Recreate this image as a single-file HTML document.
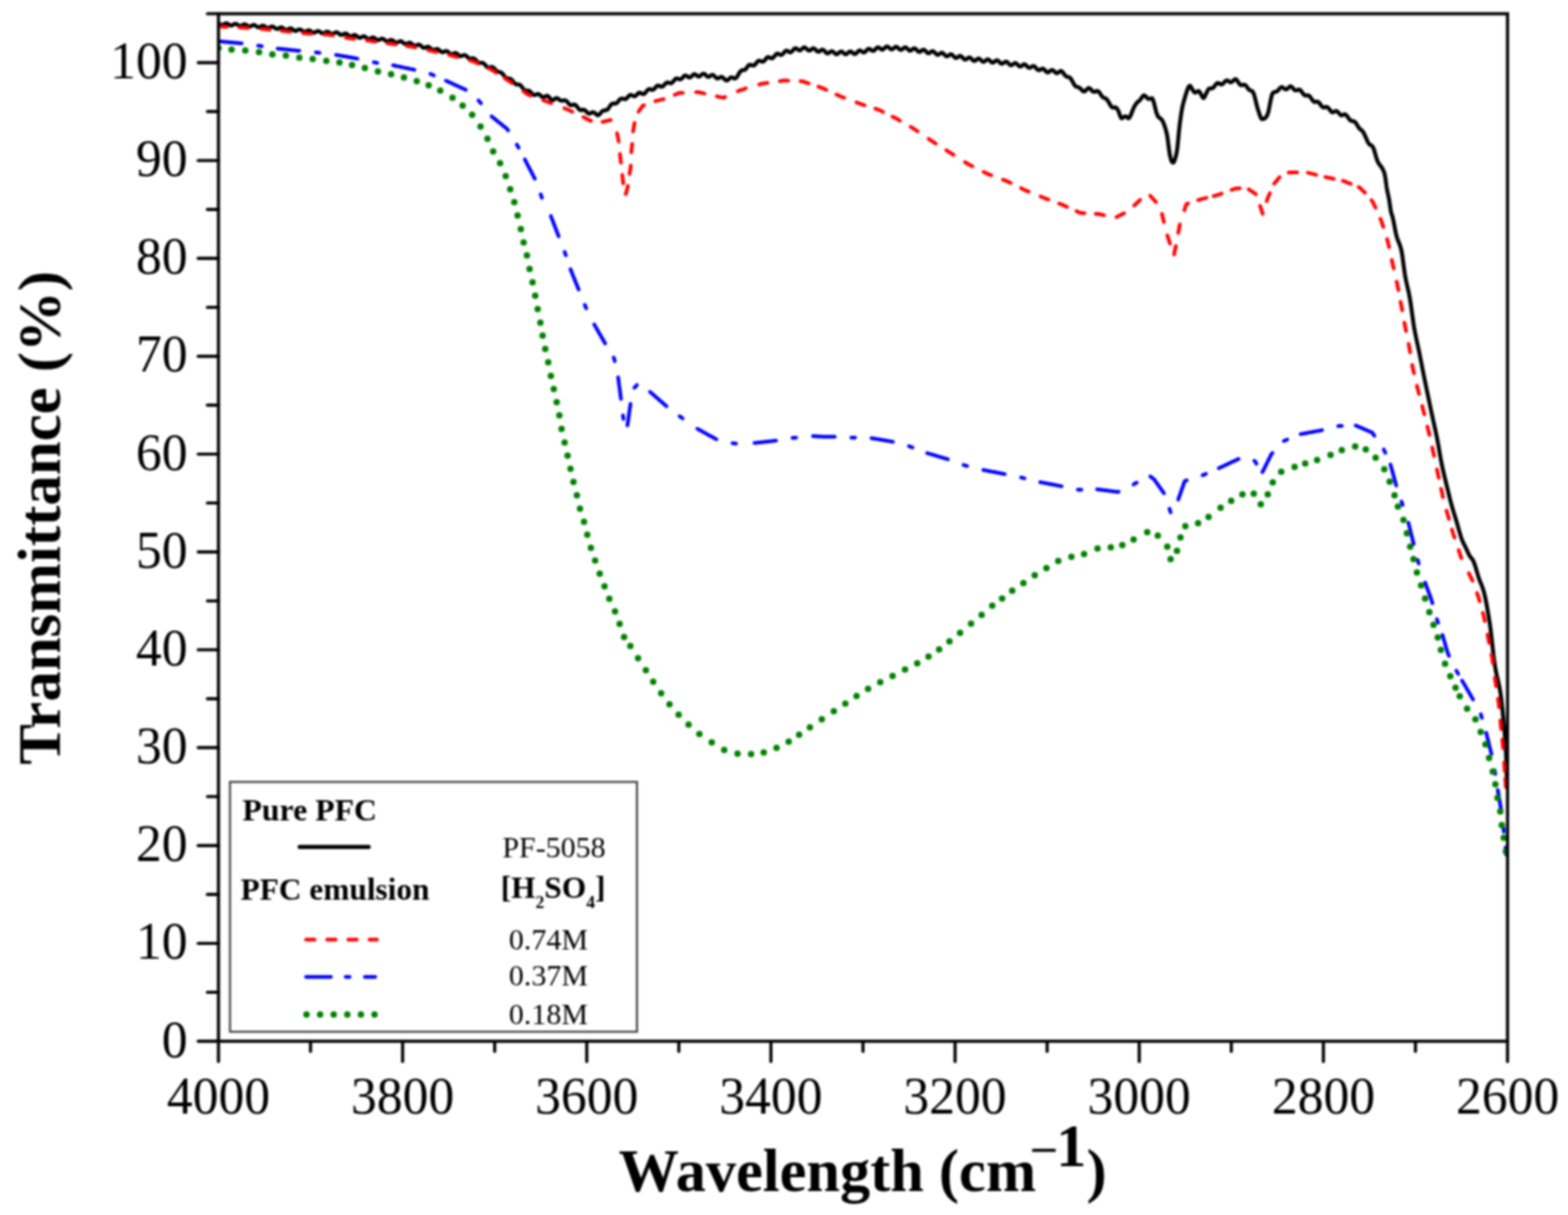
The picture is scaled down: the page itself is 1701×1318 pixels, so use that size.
<!DOCTYPE html>
<html><head><meta charset="utf-8"><style>
html,body{margin:0;padding:0;background:#fff;}
svg{display:block;filter:blur(0.9px);}
text{font-family:"Liberation Serif","Times New Roman",serif;}
.tl{font-size:56px;fill:#000;}
.at{font-size:66px;font-weight:bold;fill:#000;}
.lb{font-size:34.5px;font-weight:bold;fill:#000;}
.lb2{font-size:34px;font-weight:bold;fill:#000;}
.lr{font-size:32.5px;fill:#000;}
.at2{font-size:65.5px;font-weight:bold;fill:#000;}
.mn{font-size:48px;fill:#000;}
.sub{font-size:19px;}
</style></head><body>
<svg width="1701" height="1318" viewBox="0 0 1701 1318">
<defs><clipPath id="pc"><rect x="237" y="15" width="1398.5" height="1114.5"/></clipPath></defs>
<g clip-path="url(#pc)" fill="none" stroke-linecap="round" stroke-linejoin="round">
<path d="M237.0,25.3 L238.0,25.9 L239.0,26.6 L240.0,27.1 L241.0,27.2 L242.0,26.9 L243.0,26.3 L244.0,25.7 L245.0,25.3 L246.0,25.3 L247.0,25.7 L248.0,26.4 L249.0,27.1 L250.0,27.6 L251.0,27.7 L252.0,27.4 L253.0,26.8 L254.0,26.2 L255.0,25.8 L256.0,25.8 L257.0,26.3 L258.0,27.0 L259.0,27.7 L260.0,28.2 L261.0,28.2 L262.0,27.9 L263.0,27.3 L264.0,26.7 L265.0,26.4 L266.0,26.4 L267.0,26.9 L268.0,27.6 L269.0,28.3 L270.0,28.8 L271.0,28.9 L272.0,28.5 L273.0,27.9 L274.0,27.4 L275.0,27.0 L276.0,27.1 L277.0,27.6 L278.0,28.4 L279.0,29.1 L280.0,29.6 L281.0,29.6 L282.0,29.3 L283.0,28.7 L284.0,28.1 L285.0,27.8 L286.0,27.9 L287.0,28.5 L288.0,29.2 L289.0,29.9 L290.0,30.4 L291.0,30.4 L292.0,30.1 L293.0,29.5 L294.0,29.0 L295.0,28.7 L296.0,28.8 L297.0,29.4 L298.0,30.2 L299.0,30.9 L300.0,31.4 L301.0,31.4 L302.0,31.0 L303.0,30.5 L304.0,29.9 L305.0,29.7 L306.0,29.9 L307.0,30.5 L308.0,31.3 L309.0,32.0 L310.0,32.4 L311.0,32.4 L312.0,32.1 L313.0,31.5 L314.0,31.0 L315.0,30.7 L316.0,30.9 L317.0,31.5 L318.0,32.3 L319.0,33.0 L320.0,33.5 L321.0,33.5 L322.0,33.1 L323.0,32.5 L324.0,32.0 L325.0,31.8 L326.0,32.0 L327.0,32.6 L328.0,33.4 L329.0,34.1 L330.0,34.5 L331.0,34.5 L332.0,34.1 L333.0,33.5 L334.0,33.0 L335.0,32.8 L336.0,33.0 L337.0,33.6 L338.0,34.4 L339.0,35.1 L340.0,35.5 L341.0,35.4 L342.0,35.0 L343.0,34.3 L344.0,33.8 L345.0,33.6 L346.0,33.8 L347.0,34.5 L348.0,35.2 L349.0,35.9 L350.0,36.2 L351.0,36.1 L352.0,35.6 L353.0,35.0 L354.0,34.5 L355.0,34.3 L356.0,34.5 L357.0,35.1 L358.0,35.9 L359.0,36.6 L360.0,36.9 L361.0,36.8 L362.0,36.3 L363.0,35.7 L364.0,35.2 L365.0,35.0 L366.0,35.3 L367.0,36.0 L368.0,36.8 L369.0,37.5 L370.0,37.9 L371.0,37.8 L372.0,37.3 L373.0,36.8 L374.0,36.4 L375.0,36.3 L376.0,36.7 L377.0,37.4 L378.0,38.3 L379.0,39.0 L380.0,39.4 L381.0,39.3 L382.0,38.9 L383.0,38.4 L384.0,38.0 L385.0,37.9 L386.0,38.4 L387.0,39.1 L388.0,40.0 L389.0,40.7 L390.0,41.0 L391.0,40.9 L392.0,40.5 L393.0,39.9 L394.0,39.5 L395.0,39.4 L396.0,39.8 L397.0,40.6 L398.0,41.4 L399.0,42.1 L400.0,42.4 L401.0,42.2 L402.0,41.7 L403.0,41.1 L404.0,40.7 L405.0,40.7 L406.0,41.1 L407.0,41.8 L408.0,42.7 L409.0,43.3 L410.0,43.6 L411.0,43.4 L412.0,42.9 L413.0,42.3 L414.0,41.9 L415.0,41.9 L416.0,42.4 L417.0,43.1 L418.0,44.0 L419.0,44.6 L420.0,44.9 L421.0,44.7 L422.0,44.2 L423.0,43.6 L424.0,43.3 L425.0,43.3 L426.0,43.8 L427.0,44.5 L428.0,45.4 L429.0,46.0 L430.0,46.3 L431.0,46.1 L432.0,45.6 L433.0,45.0 L434.0,44.7 L435.0,44.7 L436.0,45.2 L437.0,46.0 L438.0,46.9 L439.0,47.5 L440.0,47.8 L441.0,47.6 L442.0,47.1 L443.0,46.6 L444.0,46.3 L445.0,46.4 L446.0,46.9 L447.0,47.8 L448.0,48.7 L449.0,49.4 L450.0,49.6 L451.0,49.5 L452.0,49.1 L453.0,48.6 L454.0,48.4 L455.0,48.5 L456.0,49.1 L457.0,50.0 L458.0,51.0 L459.0,51.6 L460.0,51.9 L461.0,51.8 L462.0,51.3 L463.0,50.9 L464.0,50.7 L465.0,50.9 L466.0,51.5 L467.0,52.4 L468.0,53.3 L469.0,54.0 L470.0,54.3 L471.0,54.1 L472.0,53.7 L473.0,53.3 L474.0,53.1 L475.0,53.3 L476.0,53.9 L477.0,54.9 L478.0,55.8 L479.0,56.4 L480.0,56.7 L481.0,56.4 L482.0,56.0 L483.0,55.5 L484.0,55.3 L485.0,55.6 L486.0,56.2 L487.0,57.1 L488.0,58.0 L489.0,58.7 L490.0,58.9 L491.0,58.6 L492.0,58.2 L493.0,57.7 L494.0,57.5 L495.0,57.7 L496.0,58.4 L497.0,59.3 L498.0,60.2 L499.0,60.8 L500.0,61.0 L501.0,60.7 L502.0,60.2 L503.0,59.8 L504.0,59.7 L505.0,60.0 L506.0,60.7 L507.0,61.7 L508.0,62.7 L509.0,63.4 L510.0,63.8 L511.0,63.7 L512.0,63.4 L513.0,63.2 L514.0,63.4 L515.0,63.9 L516.0,64.8 L517.0,66.0 L518.0,67.1 L519.0,67.9 L520.0,68.3 L521.0,68.3 L522.0,68.2 L523.0,68.1 L524.0,68.4 L525.0,69.0 L526.0,70.0 L527.0,71.2 L528.0,72.3 L529.0,73.1 L530.0,73.4 L531.0,73.3 L532.0,72.9 L533.0,72.6 L534.0,72.6 L535.0,73.1 L536.0,74.0 L537.0,75.2 L538.0,76.3 L539.0,77.2 L540.0,77.7 L541.0,78.0 L542.0,78.2 L543.0,78.5 L544.0,79.0 L545.0,79.8 L546.0,81.0 L547.0,82.3 L548.0,83.6 L549.0,84.5 L550.0,85.0 L551.0,85.2 L552.0,85.2 L553.0,85.3 L554.0,85.7 L555.0,86.5 L556.0,87.6 L557.0,88.9 L558.0,90.1 L559.0,91.0 L560.0,91.5 L561.0,91.6 L562.0,91.6 L563.0,91.7 L564.0,92.1 L565.0,92.9 L566.0,94.1 L567.0,95.5 L568.0,96.8 L569.0,97.7 L570.0,98.2 L571.0,98.4 L572.0,98.3 L573.0,98.2 L574.0,98.5 L575.0,99.2 L576.0,100.2 L577.0,101.4 L578.0,102.4 L579.0,103.0 L580.0,103.2 L581.0,102.9 L582.0,102.4 L583.0,102.0 L584.0,102.0 L585.0,102.4 L586.0,103.2 L587.0,104.2 L588.0,105.1 L589.0,105.5 L590.0,105.4 L591.0,104.9 L592.0,104.3 L593.0,103.9 L594.0,104.0 L595.0,104.7 L596.0,105.8 L597.0,107.0 L598.0,108.1 L599.0,108.7 L600.0,108.6 L601.0,108.0 L602.0,107.2 L603.0,106.6 L604.0,106.4 L605.0,106.7 L606.0,107.5 L607.0,108.3 L608.0,109.0 L609.0,109.3 L610.0,109.3 L611.0,109.0 L612.0,108.7 L613.0,108.8 L614.0,109.2 L615.0,110.1 L616.0,111.2 L617.0,112.5 L618.0,113.5 L619.0,114.1 L620.0,114.2 L621.0,113.9 L622.0,113.5 L623.0,113.4 L624.0,113.7 L625.0,114.5 L626.0,115.7 L627.0,117.1 L628.0,118.3 L629.0,119.2 L630.0,119.6 L631.0,119.4 L632.0,119.1 L633.0,118.9 L634.0,119.2 L635.0,119.9 L636.0,120.9 L637.0,122.0 L638.0,122.9 L639.0,123.3 L640.0,123.2 L641.0,122.7 L642.0,122.1 L643.0,121.7 L644.0,121.8 L645.0,122.4 L646.0,123.3 L647.0,124.3 L648.0,124.9 L649.0,125.1 L650.0,124.4 L651.0,123.3 L652.0,122.1 L653.0,121.0 L654.0,120.2 L655.0,119.8 L656.0,119.7 L657.0,119.7 L658.0,119.5 L659.0,118.8 L660.0,117.6 L661.0,116.1 L662.0,114.6 L663.0,113.4 L664.0,112.5 L665.0,112.2 L666.0,112.3 L667.0,112.4 L668.0,112.3 L669.0,111.8 L670.0,110.8 L671.0,109.6 L672.0,108.3 L673.0,107.3 L674.0,106.8 L675.0,106.8 L676.0,107.2 L677.0,107.5 L678.0,107.6 L679.0,107.3 L680.0,106.5 L681.0,105.3 L682.0,104.1 L683.0,103.3 L684.0,102.9 L685.0,103.1 L686.0,103.7 L687.0,104.2 L688.0,104.5 L689.0,104.3 L690.0,103.6 L691.0,102.5 L692.0,101.5 L693.0,100.7 L694.0,100.5 L695.0,100.8 L696.0,101.4 L697.0,102.0 L698.0,102.2 L699.0,101.8 L700.0,100.8 L701.0,99.5 L702.0,98.2 L703.0,97.2 L704.0,96.7 L705.0,96.6 L706.0,97.0 L707.0,97.4 L708.0,97.5 L709.0,97.1 L710.0,96.2 L711.0,95.0 L712.0,93.8 L713.0,93.0 L714.0,92.7 L715.0,93.0 L716.0,93.5 L717.0,94.0 L718.0,94.1 L719.0,93.7 L720.0,92.8 L721.0,91.6 L722.0,90.5 L723.0,89.7 L724.0,89.4 L725.0,89.6 L726.0,90.0 L727.0,90.3 L728.0,90.3 L729.0,89.8 L730.0,88.8 L731.0,87.5 L732.0,86.3 L733.0,85.4 L734.0,85.1 L735.0,85.2 L736.0,85.7 L737.0,86.1 L738.0,86.2 L739.0,85.7 L740.0,84.8 L741.0,83.6 L742.0,82.5 L743.0,81.9 L744.0,81.9 L745.0,82.4 L746.0,83.2 L747.0,83.8 L748.0,84.1 L749.0,83.8 L750.0,83.0 L751.0,82.0 L752.0,81.0 L753.0,80.5 L754.0,80.6 L755.0,81.2 L756.0,82.0 L757.0,82.8 L758.0,83.1 L759.0,82.9 L760.0,82.1 L761.0,81.1 L762.0,80.3 L763.0,79.9 L764.0,80.1 L765.0,80.8 L766.0,81.9 L767.0,82.8 L768.0,83.3 L769.0,83.3 L770.0,82.7 L771.0,82.0 L772.0,81.3 L773.0,81.2 L774.0,81.6 L775.0,82.5 L776.0,83.6 L777.0,84.6 L778.0,85.2 L779.0,85.2 L780.0,84.7 L781.0,84.0 L782.0,83.5 L783.0,83.4 L784.0,83.9 L785.0,84.8 L786.0,86.0 L787.0,86.9 L788.0,87.4 L789.0,87.2 L790.0,86.4 L791.0,85.4 L792.0,84.4 L793.0,83.9 L794.0,83.9 L795.0,84.4 L796.0,84.9 L797.0,85.2 L798.0,85.0 L799.0,84.1 L800.0,82.6 L801.0,80.8 L802.0,79.1 L803.0,77.7 L804.0,76.6 L805.0,76.1 L806.0,76.1 L807.0,76.1 L808.0,75.7 L809.0,74.9 L810.0,73.6 L811.0,72.2 L812.0,71.0 L813.0,70.3 L814.0,70.2 L815.0,70.5 L816.0,71.0 L817.0,71.2 L818.0,71.0 L819.0,70.2 L820.0,69.0 L821.0,67.6 L822.0,66.5 L823.0,65.9 L824.0,65.8 L825.0,66.2 L826.0,66.7 L827.0,67.0 L828.0,66.8 L829.0,66.1 L830.0,64.9 L831.0,63.6 L832.0,62.5 L833.0,62.0 L834.0,62.0 L835.0,62.4 L836.0,63.0 L837.0,63.3 L838.0,63.1 L839.0,62.3 L840.0,61.1 L841.0,59.8 L842.0,58.8 L843.0,58.2 L844.0,58.3 L845.0,58.7 L846.0,59.3 L847.0,59.6 L848.0,59.4 L849.0,58.7 L850.0,57.6 L851.0,56.3 L852.0,55.4 L853.0,54.9 L854.0,55.1 L855.0,55.7 L856.0,56.4 L857.0,56.8 L858.0,56.6 L859.0,55.9 L860.0,54.8 L861.0,53.6 L862.0,52.6 L863.0,52.3 L864.0,52.6 L865.0,53.3 L866.0,54.1 L867.0,54.6 L868.0,54.6 L869.0,54.0 L870.0,53.1 L871.0,52.1 L872.0,51.5 L873.0,51.4 L874.0,52.0 L875.0,53.0 L876.0,54.0 L877.0,54.7 L878.0,54.9 L879.0,54.5 L880.0,53.7 L881.0,52.9 L882.0,52.4 L883.0,52.5 L884.0,53.1 L885.0,54.2 L886.0,55.3 L887.0,56.0 L888.0,56.2 L889.0,55.8 L890.0,55.0 L891.0,54.2 L892.0,53.8 L893.0,54.0 L894.0,54.7 L895.0,55.8 L896.0,57.0 L897.0,57.8 L898.0,58.0 L899.0,57.6 L900.0,56.8 L901.0,56.0 L902.0,55.6 L903.0,55.7 L904.0,56.3 L905.0,57.3 L906.0,58.3 L907.0,58.8 L908.0,58.8 L909.0,58.2 L910.0,57.3 L911.0,56.3 L912.0,55.8 L913.0,55.8 L914.0,56.4 L915.0,57.4 L916.0,58.3 L917.0,58.8 L918.0,58.8 L919.0,58.2 L920.0,57.2 L921.0,56.3 L922.0,55.8 L923.0,55.8 L924.0,56.4 L925.0,57.4 L926.0,58.2 L927.0,58.7 L928.0,58.5 L929.0,57.7 L930.0,56.6 L931.0,55.5 L932.0,54.8 L933.0,54.7 L934.0,55.2 L935.0,55.9 L936.0,56.6 L937.0,56.9 L938.0,56.6 L939.0,55.8 L940.0,54.7 L941.0,53.6 L942.0,53.0 L943.0,53.0 L944.0,53.5 L945.0,54.3 L946.0,55.0 L947.0,55.3 L948.0,55.0 L949.0,54.2 L950.0,53.0 L951.0,52.0 L952.0,51.4 L953.0,51.4 L954.0,51.9 L955.0,52.8 L956.0,53.5 L957.0,53.9 L958.0,53.6 L959.0,52.8 L960.0,51.8 L961.0,50.9 L962.0,50.4 L963.0,50.6 L964.0,51.3 L965.0,52.3 L966.0,53.2 L967.0,53.7 L968.0,53.5 L969.0,52.8 L970.0,51.9 L971.0,51.1 L972.0,50.7 L973.0,51.0 L974.0,51.8 L975.0,52.8 L976.0,53.7 L977.0,54.2 L978.0,54.0 L979.0,53.3 L980.0,52.4 L981.0,51.6 L982.0,51.3 L983.0,51.6 L984.0,52.5 L985.0,53.6 L986.0,54.5 L987.0,55.0 L988.0,54.8 L989.0,54.2 L990.0,53.3 L991.0,52.6 L992.0,52.4 L993.0,52.8 L994.0,53.7 L995.0,54.9 L996.0,55.8 L997.0,56.3 L998.0,56.2 L999.0,55.6 L1000.0,54.7 L1001.0,54.1 L1002.0,53.9 L1003.0,54.3 L1004.0,55.3 L1005.0,56.4 L1006.0,57.3 L1007.0,57.8 L1008.0,57.7 L1009.0,57.0 L1010.0,56.2 L1011.0,55.6 L1012.0,55.5 L1013.0,55.9 L1014.0,56.9 L1015.0,58.1 L1016.0,59.0 L1017.0,59.5 L1018.0,59.3 L1019.0,58.7 L1020.0,57.9 L1021.0,57.3 L1022.0,57.2 L1023.0,57.7 L1024.0,58.7 L1025.0,59.8 L1026.0,60.8 L1027.0,61.2 L1028.0,61.0 L1029.0,60.3 L1030.0,59.5 L1031.0,59.0 L1032.0,58.9 L1033.0,59.4 L1034.0,60.4 L1035.0,61.6 L1036.0,62.5 L1037.0,62.9 L1038.0,62.7 L1039.0,62.1 L1040.0,61.3 L1041.0,60.7 L1042.0,60.7 L1043.0,61.3 L1044.0,62.3 L1045.0,63.4 L1046.0,64.3 L1047.0,64.7 L1048.0,64.4 L1049.0,63.7 L1050.0,62.9 L1051.0,62.4 L1052.0,62.3 L1053.0,62.9 L1054.0,63.9 L1055.0,65.0 L1056.0,65.8 L1057.0,66.1 L1058.0,65.8 L1059.0,65.0 L1060.0,64.2 L1061.0,63.6 L1062.0,63.5 L1063.0,64.1 L1064.0,65.0 L1065.0,66.1 L1066.0,66.9 L1067.0,67.1 L1068.0,66.7 L1069.0,65.9 L1070.0,65.0 L1071.0,64.4 L1072.0,64.4 L1073.0,65.0 L1074.0,66.0 L1075.0,67.0 L1076.0,67.8 L1077.0,68.0 L1078.0,67.6 L1079.0,66.8 L1080.0,65.9 L1081.0,65.4 L1082.0,65.4 L1083.0,66.1 L1084.0,67.1 L1085.0,68.2 L1086.0,69.0 L1087.0,69.2 L1088.0,68.8 L1089.0,68.1 L1090.0,67.3 L1091.0,66.8 L1092.0,66.9 L1093.0,67.6 L1094.0,68.7 L1095.0,69.8 L1096.0,70.6 L1097.0,70.8 L1098.0,70.4 L1099.0,69.7 L1100.0,68.9 L1101.0,68.4 L1102.0,68.5 L1103.0,69.2 L1104.0,70.2 L1105.0,71.3 L1106.0,72.1 L1107.0,72.2 L1108.0,71.8 L1109.0,71.0 L1110.0,70.2 L1111.0,69.7 L1112.0,69.9 L1113.0,70.6 L1114.0,71.7 L1115.0,72.8 L1116.0,73.5 L1117.0,73.7 L1118.0,73.3 L1119.0,72.6 L1120.0,71.9 L1121.0,71.6 L1122.0,71.9 L1123.0,72.7 L1124.0,73.9 L1125.0,75.1 L1126.0,76.0 L1127.0,76.2 L1128.0,75.9 L1129.0,75.3 L1130.0,74.7 L1131.0,74.4 L1132.0,74.7 L1133.0,75.5 L1134.0,76.7 L1135.0,77.8 L1136.0,78.4 L1137.0,78.5 L1138.0,78.0 L1139.0,77.1 L1140.0,76.3 L1141.0,75.8 L1142.0,76.0 L1143.0,76.7 L1144.0,77.8 L1145.0,78.7 L1146.0,79.3 L1147.0,79.3 L1148.0,78.8 L1149.0,78.0 L1150.0,77.2 L1151.0,76.9 L1152.0,77.4 L1153.0,78.5 L1154.0,79.9 L1155.0,81.3 L1156.0,82.4 L1157.0,83.1 L1158.0,83.5 L1159.0,83.7 L1160.0,83.9 L1161.0,84.6 L1162.0,85.9 L1163.0,87.5 L1164.0,89.4 L1165.0,91.2 L1166.0,92.7 L1167.0,93.7 L1168.0,94.1 L1169.0,94.4 L1170.0,94.7 L1171.0,95.2 L1172.0,96.0 L1173.0,97.0 L1174.0,98.2 L1175.0,99.0 L1176.0,99.3 L1177.0,98.9 L1178.0,98.0 L1179.0,96.9 L1180.0,95.9 L1181.0,95.4 L1182.0,95.7 L1183.0,96.5 L1184.0,97.7 L1185.0,98.8 L1186.0,99.5 L1187.0,99.7 L1188.0,99.4 L1189.0,98.9 L1190.0,98.7 L1191.0,98.8 L1192.0,99.6 L1193.0,100.9 L1194.0,102.4 L1195.0,103.9 L1196.0,105.1 L1197.0,105.9 L1198.0,106.3 L1199.0,106.6 L1200.0,107.2 L1201.0,108.1 L1202.0,109.6 L1203.0,111.3 L1204.0,113.1 L1205.0,114.8 L1206.0,116.1 L1207.0,116.7 L1208.0,116.8 L1209.0,116.5 L1210.0,116.5 L1211.0,117.0 L1212.0,118.1 L1213.0,119.8 L1214.0,122.3 L1215.0,125.3 L1216.0,127.8 L1217.0,128.4 L1218.0,127.9 L1219.0,127.1 L1220.0,126.4 L1221.0,126.2 L1222.0,126.6 L1223.0,127.4 L1224.0,128.3 L1225.0,127.8 L1226.0,126.3 L1227.0,124.1 L1228.0,121.6 L1229.0,119.0 L1230.0,116.6 L1231.0,114.8 L1232.0,113.2 L1233.0,111.9 L1234.0,110.8 L1235.0,109.9 L1236.0,109.2 L1237.0,108.1 L1238.0,106.7 L1239.0,105.2 L1240.0,103.9 L1241.0,103.4 L1242.0,103.8 L1243.0,104.7 L1244.0,105.9 L1245.0,106.8 L1246.0,107.3 L1247.0,107.3 L1248.0,106.9 L1249.0,106.6 L1250.0,106.6 L1251.0,108.8 L1252.0,112.2 L1253.0,116.3 L1254.0,120.3 L1255.0,123.6 L1256.0,125.8 L1257.0,127.2 L1258.0,128.0 L1259.0,128.6 L1260.0,129.5 L1261.0,130.9 L1262.0,133.0 L1263.0,135.5 L1264.0,138.5 L1265.0,141.9 L1266.0,145.9 L1267.0,152.6 L1268.0,160.9 L1269.0,167.7 L1270.0,171.9 L1271.0,175.2 L1272.0,176.2 L1273.0,176.4 L1274.0,174.6 L1275.0,171.6 L1276.0,167.8 L1277.0,162.4 L1278.0,152.9 L1279.0,142.1 L1280.0,133.2 L1281.0,126.1 L1282.0,119.7 L1283.0,114.5 L1284.0,110.8 L1285.0,107.2 L1286.0,103.7 L1287.0,100.5 L1288.0,97.6 L1289.0,95.1 L1290.0,93.3 L1291.0,93.0 L1292.0,94.3 L1293.0,96.0 L1294.0,97.8 L1295.0,99.4 L1296.0,100.3 L1297.0,100.3 L1298.0,99.7 L1299.0,99.0 L1300.0,98.7 L1301.0,99.2 L1302.0,100.7 L1303.0,102.6 L1304.0,104.5 L1305.0,106.2 L1306.0,106.3 L1307.0,104.7 L1308.0,102.6 L1309.0,100.4 L1310.0,98.3 L1311.0,96.7 L1312.0,95.9 L1313.0,95.8 L1314.0,95.9 L1315.0,95.8 L1316.0,95.2 L1317.0,94.2 L1318.0,92.8 L1319.0,91.5 L1320.0,90.5 L1321.0,90.1 L1322.0,90.2 L1323.0,90.8 L1324.0,91.4 L1325.0,91.6 L1326.0,91.4 L1327.0,90.5 L1328.0,89.4 L1329.0,88.2 L1330.0,87.5 L1331.0,87.2 L1332.0,87.6 L1333.0,88.3 L1334.0,89.0 L1335.0,89.3 L1336.0,89.1 L1337.0,88.4 L1338.0,87.3 L1339.0,86.3 L1340.0,85.8 L1341.0,86.1 L1342.0,87.3 L1343.0,88.8 L1344.0,90.3 L1345.0,91.5 L1346.0,92.3 L1347.0,92.5 L1348.0,92.2 L1349.0,91.8 L1350.0,91.8 L1351.0,92.3 L1352.0,93.4 L1353.0,94.8 L1354.0,96.2 L1355.0,97.3 L1356.0,97.9 L1357.0,98.3 L1358.0,98.7 L1359.0,99.5 L1360.0,101.4 L1361.0,104.6 L1362.0,108.6 L1363.0,112.8 L1364.0,116.7 L1365.0,119.8 L1366.0,122.9 L1367.0,125.8 L1368.0,128.1 L1369.0,129.3 L1370.0,128.9 L1371.0,128.9 L1372.0,128.5 L1373.0,127.6 L1374.0,126.2 L1375.0,124.4 L1376.0,121.2 L1377.0,116.4 L1378.0,111.1 L1379.0,106.1 L1380.0,102.4 L1381.0,100.6 L1382.0,100.0 L1383.0,99.7 L1384.0,99.6 L1385.0,99.3 L1386.0,98.6 L1387.0,97.5 L1388.0,96.2 L1389.0,95.1 L1390.0,94.5 L1391.0,94.5 L1392.0,95.1 L1393.0,95.9 L1394.0,96.7 L1395.0,97.0 L1396.0,96.7 L1397.0,95.9 L1398.0,94.9 L1399.0,94.0 L1400.0,93.6 L1401.0,94.0 L1402.0,94.9 L1403.0,96.2 L1404.0,97.3 L1405.0,98.0 L1406.0,98.2 L1407.0,98.0 L1408.0,97.5 L1409.0,97.1 L1410.0,97.3 L1411.0,98.1 L1412.0,99.4 L1413.0,100.8 L1414.0,102.2 L1415.0,103.1 L1416.0,103.6 L1417.0,103.6 L1418.0,103.4 L1419.0,103.4 L1420.0,103.8 L1421.0,104.7 L1422.0,106.1 L1423.0,107.6 L1424.0,109.0 L1425.0,110.0 L1426.0,110.5 L1427.0,110.5 L1428.0,110.3 L1429.0,110.2 L1430.0,110.6 L1431.0,111.5 L1432.0,112.7 L1433.0,114.2 L1434.0,115.5 L1435.0,116.3 L1436.0,116.6 L1437.0,116.5 L1438.0,116.1 L1439.0,116.0 L1440.0,116.3 L1441.0,117.1 L1442.0,118.4 L1443.0,119.7 L1444.0,120.9 L1445.0,121.7 L1446.0,121.8 L1447.0,121.4 L1448.0,120.9 L1449.0,120.4 L1450.0,120.5 L1451.0,121.1 L1452.0,122.2 L1453.0,123.4 L1454.0,124.5 L1455.0,125.0 L1456.0,125.0 L1457.0,124.6 L1458.0,124.1 L1459.0,124.0 L1460.0,124.4 L1461.0,125.4 L1462.0,126.8 L1463.0,128.3 L1464.0,129.7 L1465.0,130.6 L1466.0,131.1 L1467.0,131.3 L1468.0,131.4 L1469.0,131.7 L1470.0,132.4 L1471.0,133.6 L1472.0,135.2 L1473.0,136.9 L1474.0,138.5 L1475.0,139.7 L1476.0,140.6 L1477.0,141.3 L1478.0,142.2 L1479.0,143.6 L1480.0,145.5 L1481.0,147.6 L1482.0,149.9 L1483.0,152.2 L1484.0,154.3 L1485.0,155.9 L1486.0,156.9 L1487.0,157.5 L1488.0,158.0 L1489.0,159.0 L1490.0,160.8 L1491.0,163.7 L1492.0,167.3 L1493.0,170.9 L1494.0,173.9 L1495.0,176.2 L1496.0,177.8 L1497.0,179.1 L1498.0,180.3 L1499.0,181.8 L1500.0,183.5 L1501.0,185.6 L1502.0,188.4 L1503.0,193.7 L1504.0,201.5 L1505.0,207.2 L1506.0,211.9 L1507.0,216.8 L1508.0,223.6 L1509.0,230.2 L1510.0,233.0 L1511.0,236.6 L1512.0,241.3 L1513.0,246.6 L1514.0,251.8 L1515.0,256.2 L1516.0,259.5 L1517.0,261.9 L1518.0,264.2 L1519.0,266.9 L1520.0,270.5 L1521.0,275.5 L1522.0,282.5 L1523.0,290.2 L1524.0,297.3 L1525.0,302.9 L1526.0,307.6 L1527.0,311.9 L1528.0,316.2 L1529.0,321.1 L1530.0,326.9 L1531.0,333.7 L1532.0,341.1 L1533.0,348.3 L1534.0,354.8 L1535.0,360.3 L1536.0,365.4 L1537.0,370.0 L1538.0,374.6 L1539.0,379.2 L1540.0,384.0 L1541.0,389.1 L1542.0,394.2 L1543.0,399.3 L1544.0,404.3 L1545.0,409.3 L1546.0,414.2 L1547.0,419.1 L1548.0,423.9 L1549.0,428.7 L1550.0,433.5 L1551.0,438.3 L1552.0,443.1 L1553.0,447.8 L1554.0,452.5 L1555.0,457.0 L1556.0,461.5 L1557.0,466.0 L1558.0,470.6 L1559.0,475.5 L1560.0,480.9 L1561.0,486.6 L1562.0,492.5 L1563.0,498.1 L1564.0,503.3 L1565.0,508.0 L1566.0,512.5 L1567.0,516.7 L1568.0,520.8 L1569.0,524.9 L1570.0,529.0 L1571.0,533.1 L1572.0,537.3 L1573.0,541.4 L1574.0,545.2 L1575.0,548.9 L1576.0,552.3 L1577.0,555.6 L1578.0,558.8 L1579.0,562.1 L1580.0,565.4 L1581.0,568.9 L1582.0,572.5 L1583.0,576.0 L1584.0,579.4 L1585.0,582.6 L1586.0,585.5 L1587.0,587.9 L1588.0,590.0 L1589.0,591.9 L1590.0,593.9 L1591.0,596.1 L1592.0,598.3 L1593.0,600.5 L1594.0,602.4 L1595.0,604.0 L1596.0,605.3 L1597.0,606.4 L1598.0,607.9 L1599.0,610.2 L1600.0,613.0 L1601.0,616.2 L1602.0,619.6 L1603.0,623.0 L1604.0,626.2 L1605.0,629.1 L1606.0,631.7 L1607.0,634.0 L1608.0,636.6 L1609.0,639.5 L1610.0,643.0 L1611.0,647.2 L1612.0,652.0 L1613.0,657.3 L1614.0,663.1 L1615.0,669.2 L1616.0,675.5 L1617.0,682.4 L1618.0,690.7 L1619.0,699.9 L1620.0,709.0 L1621.0,717.2 L1622.0,723.7 L1623.0,729.0 L1624.0,733.7 L1625.0,737.9 L1626.0,742.3 L1627.0,747.3 L1628.0,753.4 L1629.0,761.5 L1630.0,771.1 L1631.0,781.6 L1632.0,791.8 L1633.0,802.8 L1634.0,822.1 L1634.6,843.0" stroke="#000" stroke-width="4.3"/>
<path d="M237.0,28.6 L238.0,28.7 L239.1,28.7 L240.1,28.8 L241.1,28.8 L242.2,28.9 L243.2,28.9 L244.3,29.0 L245.3,29.0 L246.2,29.1M259.7,29.7 L259.8,29.7 L260.8,29.8 L261.9,29.8 L262.9,29.9 L263.9,30.0 L265.0,30.1 L266.0,30.1 L267.0,30.2 L268.1,30.3 L269.0,30.3M283.5,31.4 L283.5,31.4 L284.6,31.5 L285.6,31.6 L286.6,31.6 L287.7,31.7 L288.7,31.8 L289.7,31.9 L290.7,32.0 L291.7,32.1 L292.7,32.2 L292.7,32.2M305.6,33.5 L305.6,33.5 L306.6,33.6 L307.6,33.7 L308.6,33.8 L309.6,33.9 L310.6,34.0 L311.6,34.1 L312.6,34.2 L313.6,34.3 L314.6,34.4 L314.9,34.4M328.7,35.9 L328.7,35.9 L329.7,36.0 L330.7,36.1 L331.7,36.2 L332.7,36.3 L333.7,36.4 L334.7,36.4 L335.7,36.5 L336.8,36.5 L337.8,36.6 L337.9,36.6M351.9,37.4 L351.9,37.4 L353.0,37.4 L354.0,37.5 L355.0,37.5 L356.0,37.6 L357.0,37.8 L358.0,37.9 L359.0,38.1 L360.1,38.3 L361.1,38.4 L361.1,38.5M375.2,40.8 L375.2,40.8 L376.3,41.0 L377.3,41.2 L378.3,41.3 L379.3,41.5 L380.3,41.6 L381.4,41.8 L382.4,41.9 L383.4,42.0 L384.4,42.1M397.8,43.8 L397.9,43.8 L399.0,44.0 L400.0,44.1 L401.0,44.2 L402.0,44.4 L403.0,44.5 L404.0,44.7 L405.0,44.8 L406.1,44.9 L407.1,45.1 L407.1,45.1M420.1,46.9 L420.2,46.9 L421.2,47.0 L422.2,47.2 L423.2,47.3 L424.2,47.4 L425.2,47.6 L426.2,47.7 L427.3,47.9 L428.3,48.0 L429.3,48.2 L429.3,48.2M441.4,49.9 L441.4,49.9 L442.4,50.0 L443.5,50.2 L444.5,50.3 L445.5,50.5 L446.5,50.6 L447.5,50.8 L448.5,51.0 L449.5,51.2 L450.5,51.4 L450.6,51.4M464.5,54.4 L464.6,54.4 L465.6,54.6 L466.6,54.8 L467.6,55.0 L468.6,55.2 L469.6,55.5 L470.5,55.7 L471.5,55.9 L472.5,56.2 L473.5,56.4 L473.6,56.4M487.2,59.6 L487.2,59.6 L488.2,59.9 L489.2,60.1 L490.1,60.3 L491.1,60.6 L492.1,60.8 L493.1,61.1 L494.1,61.3 L495.0,61.6 L496.0,61.9 L496.2,61.9M509.7,65.5 L509.8,65.5 L510.8,65.8 L511.7,66.1 L512.7,66.3 L513.7,66.6 L514.6,67.0 L515.5,67.4 L516.4,67.9 L517.4,68.3 L518.3,68.7 L518.4,68.8M530.1,74.2 L530.1,74.2 L531.1,74.6 L532.0,75.1 L532.9,75.5 L533.8,75.9 L534.7,76.5 L535.5,77.0 L536.4,77.6 L537.2,78.1 L538.1,78.7 L538.2,78.8M547.4,84.8 L547.5,84.8 L548.3,85.4 L549.2,86.0 L550.0,86.5 L550.9,87.1 L551.7,87.6 L552.6,88.2 L553.4,88.8 L554.3,89.4 L555.1,90.0 L555.1,90.0M567.7,99.0 L567.8,99.0 L568.6,99.6 L569.4,100.2 L570.3,100.8 L571.1,101.4 L572.0,102.0 L572.8,102.6 L573.8,103.0 L574.7,103.3 L575.6,103.7M589.2,108.7 L589.3,108.7 L590.2,109.1 L591.2,109.4 L592.2,109.8 L593.1,110.1 L594.1,110.5 L595.1,110.9 L596.0,111.2 L597.0,111.6 L597.9,111.9M612.3,117.4 L612.3,117.4 L613.3,117.8 L614.2,118.1 L615.2,118.5 L616.1,119.0 L617.1,119.4 L618.0,119.8 L618.9,120.3 L619.9,120.8 L620.8,121.2M632.9,127.0 L633.0,127.1 L634.0,127.6 L634.9,128.1 L635.9,128.6 L636.9,129.1 L637.9,129.6 L638.8,130.1 L639.8,130.6 L640.8,131.1 L641.2,131.1M653.6,132.3 L653.7,132.3 L654.7,132.0 L655.6,131.8 L656.6,131.5 L657.6,131.3 L658.6,131.1 L659.6,130.8 L660.5,130.6 L661.5,130.3 L662.5,130.1 L662.6,130.2M669.4,144.4 L669.4,144.5 L669.6,145.5 L669.8,146.6 L670.1,147.6 L670.3,148.7 L670.5,149.7 L670.7,150.8 L670.9,151.8 L671.0,152.8 L671.1,153.5M672.6,167.1 L672.6,167.3 L672.7,168.4 L672.8,169.5 L673.0,170.6 L673.1,171.7 L673.2,172.8 L673.3,173.9 L673.4,175.0 L673.5,176.1 L673.6,176.3M675.1,189.8 L675.1,190.0 L675.2,191.1 L675.3,192.2 L675.5,193.2 L675.6,194.3 L675.7,195.4 L675.8,196.5 L675.9,197.6 L676.1,198.7 L676.1,199.0M678.8,210.5 L678.9,210.4 L679.1,209.5 L679.4,208.5 L679.7,207.5 L680.0,206.5 L680.2,205.6 L680.5,204.6 L680.8,203.6 L680.9,202.6 L681.1,201.6 L681.1,201.5M683.0,188.7 L683.0,188.6 L683.1,187.5 L683.3,186.4 L683.5,185.3 L683.7,184.2 L683.9,183.1 L684.0,182.0 L684.2,180.9 L684.2,179.8 L684.2,179.5M684.8,165.2 L684.8,165.0 L685.0,163.9 L685.1,162.8 L685.2,161.6 L685.3,160.5 L685.5,159.4 L685.6,158.3 L685.7,157.2 L685.8,156.1 L685.8,155.9M686.8,142.5 L686.9,142.4 L687.0,141.3 L687.2,140.3 L687.4,139.2 L687.5,138.2 L687.7,137.1 L687.9,136.1 L688.0,135.0 L688.2,134.0 L688.4,133.3M692.7,121.1 L692.8,120.9 L693.4,120.1 L694.0,119.2 L694.7,118.3 L695.3,117.4 L695.9,116.6 L696.5,115.7 L697.1,114.8 L698.1,114.4 L698.7,114.2M710.8,109.7 L710.9,109.7 L712.0,109.4 L713.0,109.2 L714.0,108.9 L715.0,108.7 L716.1,108.4 L717.1,108.2 L718.1,107.9 L719.2,107.7 L719.9,107.5M731.9,102.8 L732.0,102.7 L733.0,102.4 L734.0,102.0 L734.9,101.6 L735.9,101.2 L736.9,100.8 L737.9,100.8 L738.9,100.7 L739.9,100.7 L740.8,100.7M755.1,100.1 L755.1,100.1 L756.1,100.1 L757.1,100.0 L758.1,100.0 L759.1,100.2 L760.1,100.5 L761.0,100.7 L762.0,100.9 L763.0,101.1 L764.0,101.4 L764.2,101.4M777.7,104.5 L777.7,104.5 L778.7,104.7 L779.7,105.0 L780.7,105.2 L781.7,105.4 L782.6,105.6 L783.6,105.9 L784.6,106.1 L785.5,105.7 L786.5,105.3 L786.6,105.2M800.3,99.0 L800.3,99.0 L801.3,98.6 L802.2,98.2 L803.2,97.8 L804.3,97.5 L805.4,97.1 L806.4,96.8 L807.5,96.4 L808.5,96.0 L809.0,95.8M823.5,91.7 L823.5,91.6 L824.5,91.4 L825.5,91.1 L826.5,90.8 L827.5,90.7 L828.5,90.5 L829.6,90.4 L830.6,90.2 L831.6,90.1 L832.6,89.9M845.9,88.0 L846.0,88.0 L847.0,87.9 L848.0,87.7 L849.1,87.6 L850.1,87.4 L851.1,87.3 L852.1,87.3 L853.1,87.4 L854.2,87.4 L855.1,87.5M868.4,88.1 L868.5,88.1 L869.5,88.2 L870.5,88.2 L871.5,88.5 L872.4,88.8 L873.4,89.2 L874.4,89.5 L875.3,89.8 L876.3,90.1 L877.2,90.5 L877.3,90.5M887.8,94.0 L887.8,94.0 L888.8,94.3 L889.8,94.7 L890.7,95.0 L891.7,95.3 L892.6,95.7 L893.5,96.1 L894.5,96.6 L895.4,97.0 L896.3,97.4 L896.4,97.5M907.3,102.5 L907.4,102.5 L908.3,102.9 L909.2,103.3 L910.1,103.7 L911.1,104.2 L912.0,104.6 L912.9,105.0 L913.9,105.4 L914.8,105.7 L915.8,106.1 L915.9,106.1M929.2,111.1 L929.2,111.1 L930.2,111.5 L931.1,111.8 L932.1,112.2 L933.0,112.5 L934.0,112.9 L935.0,113.2 L935.9,113.5 L936.9,113.8 L937.9,114.1 L937.9,114.2M949.5,117.8 L949.5,117.9 L950.5,118.2 L951.5,118.5 L952.4,118.8 L953.4,119.1 L954.3,119.6 L955.2,120.0 L956.2,120.5 L957.1,120.9 L958.0,121.4 L958.0,121.4M968.1,126.5 L968.2,126.5 L969.1,127.0 L970.0,127.4 L971.0,127.9 L971.9,128.3 L972.8,128.8 L973.7,129.3 L974.6,129.8 L975.4,130.4 L976.3,130.9M987.8,137.6 L987.8,137.6 L988.7,138.1 L989.6,138.6 L990.4,139.2 L991.3,139.7 L992.2,140.2 L993.0,140.8 L993.9,141.4 L994.7,141.9 L995.6,142.5 L995.6,142.5M1007.3,150.6 L1007.4,150.6 L1008.2,151.2 L1009.1,151.8 L1009.9,152.3 L1010.8,152.9 L1011.6,153.5 L1012.5,154.1 L1013.4,154.6 L1014.2,155.2 L1015.1,155.7M1026.5,163.0 L1026.6,163.0 L1027.5,163.6 L1028.4,164.1 L1029.2,164.7 L1030.1,165.2 L1031.0,165.8 L1031.9,166.4 L1032.8,166.9 L1033.6,167.5 L1034.4,167.9M1046.8,175.8 L1046.9,175.9 L1047.8,176.4 L1048.6,177.0 L1049.5,177.5 L1050.4,178.1 L1051.3,178.6 L1052.2,179.0 L1053.2,179.5 L1054.1,179.9 L1054.9,180.4M1066.9,186.4 L1067.0,186.4 L1067.9,186.9 L1068.8,187.3 L1069.8,187.8 L1070.7,188.2 L1071.6,188.7 L1072.6,189.1 L1073.5,189.4 L1074.5,189.8 L1075.4,190.1M1087.9,194.9 L1088.0,194.9 L1088.9,195.2 L1089.9,195.6 L1090.9,196.0 L1091.8,196.3 L1092.8,196.7 L1093.7,197.2 L1094.7,197.6 L1095.6,198.1 L1096.5,198.5M1107.6,204.1 L1107.7,204.1 L1108.6,204.6 L1109.5,205.0 L1110.4,205.5 L1111.4,205.9 L1112.3,206.4 L1113.3,206.8 L1114.2,207.2 L1115.2,207.6 L1116.0,207.9M1128.7,213.1 L1128.8,213.1 L1129.8,213.5 L1130.7,213.9 L1131.7,214.3 L1132.7,214.7 L1133.6,215.0 L1134.6,215.4 L1135.6,215.8 L1136.5,216.1 L1137.4,216.4M1149.0,220.8 L1149.0,220.8 L1150.0,221.2 L1151.0,221.6 L1151.9,221.9 L1152.9,222.3 L1153.8,222.7 L1154.7,223.1 L1155.7,223.6 L1156.6,224.0 L1157.5,224.4 L1157.6,224.4M1167.7,229.0 L1167.7,229.0 L1168.6,229.4 L1169.5,229.8 L1170.5,230.3 L1171.4,230.7 L1172.3,231.1 L1173.3,231.1 L1174.3,231.2 L1175.4,231.2 L1176.4,231.3 L1176.5,231.3M1188.6,231.9 L1188.6,231.9 L1189.7,231.9 L1190.7,232.0 L1191.7,232.0 L1192.7,232.2 L1193.7,232.5 L1194.6,232.7 L1195.6,233.0 L1196.6,233.2 L1197.6,233.5 L1197.7,233.5M1211.1,235.5 L1211.2,235.5 L1212.1,235.0 L1213.1,234.5 L1214.0,234.0 L1215.0,233.6 L1215.9,233.1 L1216.9,232.6 L1217.8,232.1 L1218.8,231.7 L1219.4,231.3M1230.2,223.1 L1230.2,223.0 L1230.9,222.4 L1231.7,221.7 L1232.4,221.0 L1233.1,220.3 L1233.9,219.6 L1234.6,218.9 L1235.4,218.2 L1236.1,217.5 L1236.9,216.8 L1236.9,216.7M1247.7,212.3 L1247.8,212.3 L1248.4,213.0 L1249.1,213.8 L1249.8,214.5 L1250.5,215.3 L1251.1,216.0 L1251.8,216.8 L1252.5,217.5 L1253.2,218.3 L1253.8,219.0 L1254.0,219.2M1260.5,231.9 L1260.5,232.0 L1260.7,233.0 L1261.0,233.9 L1261.2,234.9 L1261.4,235.9 L1261.7,236.9 L1261.9,237.8 L1262.1,238.8 L1262.4,239.8 L1262.6,240.8 L1262.6,240.9M1266.4,255.4 L1266.5,255.5 L1266.8,256.5 L1267.1,257.6 L1267.4,258.6 L1267.7,259.6 L1268.0,260.6 L1268.4,261.6 L1268.7,262.6 L1269.0,263.6 L1269.2,264.3M1273.7,276.0 L1273.7,276.0 L1273.9,275.0 L1274.1,274.0 L1274.3,273.0 L1274.5,271.9 L1274.7,270.9 L1274.9,269.9 L1275.2,268.9 L1275.4,267.9 L1275.6,266.9M1278.2,252.7 L1278.2,252.6 L1278.4,251.6 L1278.6,250.5 L1278.8,249.5 L1279.0,248.5 L1279.2,247.5 L1279.3,246.5 L1279.5,245.4 L1279.7,244.4 L1279.9,243.5M1284.8,228.1 L1284.8,228.1 L1285.1,227.1 L1285.4,226.2 L1285.7,225.2 L1286.0,224.3 L1286.3,223.3 L1286.6,222.4 L1286.9,221.4 L1287.9,221.1 L1288.9,220.7 L1289.0,220.7M1299.7,217.1 L1299.8,217.1 L1300.8,216.8 L1301.8,216.4 L1302.8,216.1 L1303.8,215.9 L1304.8,215.6 L1305.8,215.4 L1306.7,215.1 L1307.7,214.9 L1308.7,214.6M1316.5,212.7 L1316.6,212.7 L1317.5,212.4 L1318.5,212.2 L1319.5,211.9 L1320.5,211.7 L1321.5,211.3 L1322.4,211.0 L1323.4,210.6 L1324.4,210.3 L1325.3,209.9 L1325.4,209.9M1336.0,206.0 L1336.0,206.0 L1337.0,205.7 L1338.0,205.3 L1338.9,205.0 L1339.9,204.6 L1340.9,204.5 L1342.0,204.4 L1343.0,204.4 L1344.0,204.3 L1345.0,204.2M1354.7,205.4 L1354.8,205.5 L1355.7,206.1 L1356.6,206.7 L1357.5,207.2 L1358.4,207.8 L1359.3,208.4 L1360.2,209.0 L1361.0,209.6 L1361.9,210.2 L1362.5,210.6M1366.9,223.3 L1366.9,223.3 L1367.3,224.3 L1367.6,225.3 L1367.9,226.2 L1368.2,227.2 L1368.5,228.1 L1368.8,229.1 L1369.2,230.1 L1369.5,231.0 L1369.8,232.0 L1369.8,231.9M1374.1,218.2 L1374.2,218.2 L1374.5,217.2 L1374.8,216.2 L1375.1,215.2 L1375.5,214.3 L1375.9,213.3 L1376.4,212.4 L1376.8,211.5 L1377.2,210.5 L1377.6,209.6M1382.2,199.3 L1382.2,199.3 L1382.9,198.5 L1383.6,197.7 L1384.2,196.9 L1384.9,196.0 L1385.6,195.2 L1386.3,194.4 L1386.9,193.6 L1387.6,192.8 L1388.1,192.2M1398.0,187.3 L1398.0,187.3 L1399.0,187.1 L1400.0,187.1 L1401.1,187.1 L1402.2,187.1 L1403.2,187.1 L1404.2,187.1 L1405.3,187.1 L1406.4,187.1 L1407.2,187.1M1418.8,187.3 L1418.9,187.4 L1419.9,187.6 L1420.9,187.9 L1421.9,188.1 L1422.9,188.4 L1423.9,188.6 L1424.9,188.9 L1425.9,189.1 L1426.9,189.4 L1427.8,189.6M1437.8,192.1 L1437.9,192.1 L1438.9,192.3 L1439.9,192.5 L1440.9,192.7 L1441.9,192.9 L1442.9,193.1 L1443.9,193.3 L1444.9,193.5 L1445.9,193.7 L1446.9,193.9 L1447.0,193.9M1456.8,196.1 L1456.8,196.1 L1457.8,196.5 L1458.7,196.8 L1459.7,197.2 L1460.6,197.6 L1461.6,198.0 L1462.5,198.4 L1463.5,198.7 L1464.4,199.1 L1465.3,199.5 L1465.4,199.5M1473.8,202.9 L1473.9,202.9 L1474.8,203.3 L1475.5,204.0 L1476.2,204.7 L1476.9,205.4 L1477.7,206.1 L1478.4,206.8 L1479.1,207.5 L1479.8,208.2 L1480.5,208.9 L1480.7,209.1M1487.8,217.2 L1487.8,217.2 L1488.4,218.1 L1489.0,218.9 L1489.5,219.8 L1490.0,220.7 L1490.4,221.6 L1490.8,222.6 L1491.3,223.5 L1491.8,224.4 L1492.2,225.3 L1492.2,225.3M1497.5,237.4 L1497.5,237.4 L1497.9,238.3 L1498.3,239.3 L1498.7,240.2 L1499.0,241.2 L1499.3,242.1 L1499.6,243.1 L1499.9,244.0 L1500.2,245.0 L1500.5,245.9 L1500.6,246.2M1504.7,259.3 L1504.7,259.3 L1505.0,260.3 L1505.3,261.2 L1505.6,262.2 L1505.8,263.2 L1506.0,264.2 L1506.2,265.2 L1506.5,266.2 L1506.7,267.2 L1506.9,268.1 L1506.9,268.3M1509.9,282.0 L1509.9,282.0 L1510.1,283.0 L1510.3,284.0 L1510.5,285.0 L1510.7,286.0 L1510.9,287.0 L1511.2,287.9 L1511.4,288.9 L1511.6,289.9 L1511.8,290.9 L1511.9,291.1M1515.1,305.6 L1515.1,305.6 L1515.4,306.5 L1515.6,307.5 L1515.8,308.5 L1516.0,309.5 L1516.2,310.5 L1516.4,311.5 L1516.6,312.5 L1516.8,313.5 L1516.9,314.5 L1517.0,314.7M1519.4,327.5 L1519.4,327.5 L1519.6,328.5 L1519.8,329.5 L1520.0,330.5 L1520.2,331.5 L1520.4,332.5 L1520.6,333.6 L1520.7,334.6 L1520.9,335.6 L1521.1,336.6M1523.5,349.9 L1523.5,349.9 L1523.7,351.0 L1523.9,352.0 L1524.1,353.0 L1524.3,354.0 L1524.5,355.0 L1524.7,356.0 L1524.9,357.0 L1525.1,358.0 L1525.3,359.0M1528.1,373.0 L1528.1,373.1 L1528.3,374.1 L1528.5,375.1 L1528.7,376.1 L1528.9,377.1 L1529.0,378.1 L1529.2,379.1 L1529.4,380.1 L1529.5,381.1 L1529.7,382.0 L1529.7,382.2M1532.0,395.9 L1532.0,395.9 L1532.2,396.9 L1532.3,397.9 L1532.5,398.9 L1532.7,399.9 L1533.0,400.8 L1533.2,401.8 L1533.4,402.8 L1533.7,403.8 L1533.9,404.7 L1533.9,405.0M1537.1,418.4 L1537.1,418.4 L1537.3,419.4 L1537.6,420.3 L1537.8,421.3 L1538.1,422.3 L1538.3,423.3 L1538.6,424.3 L1538.9,425.4 L1539.2,426.4 L1539.4,427.4M1542.9,440.4 L1542.9,440.4 L1543.1,441.4 L1543.4,442.3 L1543.6,443.3 L1543.8,444.3 L1544.1,445.2 L1544.3,446.2 L1544.6,447.2 L1544.8,448.2 L1545.1,449.1 L1545.1,449.4M1548.5,462.7 L1548.5,462.7 L1548.7,463.7 L1548.9,464.7 L1549.2,465.6 L1549.4,466.6 L1549.7,467.6 L1549.9,468.6 L1550.2,469.5 L1550.4,470.5 L1550.6,471.5 L1550.7,471.8M1553.7,485.4 L1553.7,485.4 L1553.9,486.4 L1554.1,487.4 L1554.3,488.4 L1554.5,489.4 L1554.8,490.4 L1555.0,491.4 L1555.2,492.4 L1555.4,493.4 L1555.6,494.4 L1555.7,494.5M1558.9,509.3 L1558.9,509.3 L1559.1,510.3 L1559.3,511.3 L1559.5,512.3 L1559.8,513.3 L1560.0,514.3 L1560.2,515.3 L1560.4,516.3 L1560.6,517.3 L1560.8,518.3 L1560.8,518.4M1563.4,530.3 L1563.4,530.3 L1563.6,531.3 L1563.8,532.3 L1564.1,533.3 L1564.3,534.3 L1564.5,535.3 L1564.7,536.3 L1564.9,537.3 L1565.1,538.3 L1565.3,539.3 L1565.4,539.3M1569.2,554.0 L1569.2,554.0 L1569.5,555.0 L1569.8,555.9 L1570.1,556.9 L1570.4,557.9 L1570.6,558.8 L1570.9,559.8 L1571.2,560.8 L1571.5,561.8 L1571.7,562.7 L1571.8,562.9M1575.1,574.4 L1575.1,574.4 L1575.3,575.4 L1575.6,576.3 L1575.9,577.3 L1576.2,578.3 L1576.5,579.2 L1576.9,580.2 L1577.2,581.2 L1577.5,582.1 L1577.8,583.1 L1577.9,583.2M1582.4,596.7 L1582.4,596.7 L1582.7,597.7 L1583.0,598.6 L1583.3,599.6 L1583.7,600.6 L1584.0,601.5 L1584.3,602.5 L1584.6,603.5 L1585.0,604.5 L1585.3,605.4 L1585.3,605.5M1593.4,621.8 L1593.4,621.8 L1593.8,622.7 L1594.3,623.6 L1594.8,624.6 L1595.2,625.5 L1595.7,626.4 L1596.1,627.3 L1596.6,628.2 L1597.0,629.1 L1597.5,630.0 L1597.5,630.1M1602.3,643.4 L1602.3,643.4 L1602.6,644.4 L1603.0,645.3 L1603.3,646.3 L1603.7,647.2 L1604.0,648.2 L1604.3,649.2 L1604.5,650.2 L1604.8,651.1 L1605.1,652.1 L1605.1,652.2M1608.6,664.8 L1608.6,664.8 L1608.9,665.8 L1609.2,666.7 L1609.4,667.7 L1609.7,668.7 L1609.9,669.7 L1610.1,670.7 L1610.3,671.7 L1610.5,672.6 L1610.7,673.6 L1610.7,673.8M1613.7,688.4 L1613.7,688.4 L1613.9,689.4 L1614.1,690.4 L1614.3,691.4 L1614.5,692.4 L1614.7,693.4 L1614.9,694.4 L1615.1,695.4 L1615.3,696.4 L1615.5,697.3 L1615.5,697.5M1618.0,710.2 L1618.0,710.2 L1618.2,711.2 L1618.4,712.2 L1618.6,713.2 L1618.8,714.2 L1618.9,715.2 L1619.1,716.2 L1619.2,717.2 L1619.3,718.2 L1619.5,719.2 L1619.5,719.4M1621.7,735.2 L1621.7,735.2 L1621.8,736.2 L1621.9,737.2 L1622.1,738.2 L1622.2,739.2 L1622.4,740.2 L1622.5,741.2 L1622.7,742.2 L1622.8,743.2 L1623.0,744.2 L1623.0,744.4M1625.1,758.0 L1625.1,758.0 L1625.2,759.0 L1625.4,760.0 L1625.5,761.0 L1625.7,762.0 L1625.8,763.0 L1625.9,764.1 L1626.0,765.1 L1626.1,766.1 L1626.2,767.2 L1626.2,767.3M1627.6,781.6 L1627.6,781.7 L1627.7,782.7 L1627.8,783.8 L1627.9,784.8 L1628.0,785.8 L1628.1,786.9 L1628.2,787.9 L1628.3,788.9 L1628.4,790.0 L1628.5,790.9M1629.7,802.3 L1629.7,802.3 L1629.8,803.4 L1629.9,804.4 L1630.0,805.4 L1630.1,806.5 L1630.2,807.5 L1630.3,808.5 L1630.4,809.6 L1630.4,810.6 L1630.5,811.5M1631.7,827.1 L1631.8,827.2 L1631.8,828.2 L1631.9,829.3 L1632.0,830.3 L1632.1,831.3 L1632.1,832.3 L1632.2,833.4 L1632.3,834.4 L1632.4,835.4 L1632.4,836.4M1633.0,844.6 L1633.0,844.6 L1633.1,845.7 L1633.1,846.7 L1633.2,847.7 L1633.3,848.8 L1633.4,849.8 L1633.4,850.8 L1633.5,851.8 L1633.6,852.9 L1633.6,853.9" stroke="#ff0000" stroke-width="4"/>
<path d="M238.6,44.9 L239.0,44.9 L240.0,45.0 L241.0,45.1 L242.0,45.2 L243.0,45.3 L244.1,45.4 L245.1,45.5 L246.1,45.6 L247.1,45.7 L248.1,45.8 L249.1,45.9 L250.1,46.0 L251.1,46.0 L252.1,46.1 L253.1,46.2 L254.1,46.3 L255.1,46.4 L256.1,46.5 L257.1,46.6 L258.2,46.7 L259.2,46.8 L260.2,46.9 L261.2,47.0 L262.2,47.1 L262.2,47.1M280.0,49.5 L280.6,49.6 L281.6,49.7 L282.6,49.9 L283.7,50.0 L284.0,50.1M301.1,52.7 L301.1,52.7 L302.1,52.8 L303.2,52.9 L304.2,53.0 L305.2,53.1 L306.2,53.2 L307.2,53.3 L308.2,53.4 L309.2,53.5 L310.3,53.6 L311.3,53.7 L312.3,53.8 L313.3,54.0 L314.3,54.1 L315.3,54.2 L316.3,54.3 L317.4,54.4 L318.4,54.5 L319.4,54.6 L320.4,54.7 L321.4,54.8 L322.4,54.9 L323.4,55.0 L324.5,55.1 L324.7,55.1M342.6,56.8 L343.2,56.9 L344.3,57.0 L345.3,57.1 L346.3,57.2 L346.6,57.3M364.5,59.5 L364.5,59.6 L365.5,59.7 L366.6,59.9 L367.6,60.1 L368.6,60.2 L369.6,60.4 L370.6,60.6 L371.6,60.8 L372.6,61.0 L373.7,61.1 L374.7,61.3 L375.7,61.5 L376.7,61.6 L377.7,61.8 L378.7,62.0 L379.7,62.2 L380.8,62.3 L381.8,62.5 L382.8,62.7 L383.8,62.9 L384.8,63.0 L385.8,63.2 L386.8,63.4 L387.8,63.6M405.4,67.5 L405.7,67.5 L406.7,67.8 L407.7,68.0 L408.7,68.2 L409.3,68.2M426.4,70.8 L426.4,70.8 L427.4,71.0 L428.4,71.2 L429.5,71.5 L430.5,71.7 L431.5,71.9 L432.5,72.1 L433.5,72.3 L434.5,72.5 L435.5,72.7 L436.5,73.0 L437.6,73.2 L438.6,73.4 L439.6,73.6 L440.6,73.8 L441.6,74.0 L442.6,74.2 L443.6,74.4 L444.6,74.7 L445.7,74.9 L446.7,75.1 L447.7,75.3 L448.7,75.5 L449.5,75.7M467.0,80.2 L467.2,80.3 L468.2,80.7 L469.1,81.1 L470.0,81.5 L470.6,81.8M483.8,87.5 L483.9,87.6 L484.8,88.0 L485.7,88.4 L486.7,88.8 L487.6,89.3 L488.5,89.7 L489.5,90.1 L490.4,90.6 L491.3,91.0 L492.3,91.4 L493.2,91.9 L494.1,92.3 L495.1,92.7 L496.0,93.1 L496.9,93.6 L497.9,94.0 L498.8,94.4 L499.7,94.9 L500.7,95.3 L501.6,95.7 L502.5,96.2 L503.5,96.6 L504.4,97.0 L505.3,97.4 L505.3,97.4M519.1,108.9 L519.4,109.1 L520.0,109.9 L520.6,110.7 L521.2,111.5 L521.7,112.0M533.3,126.2 L533.3,126.2 L534.0,126.8 L534.8,127.4 L535.6,128.1 L536.4,128.7 L537.2,129.3 L537.9,130.0 L538.7,130.6 L539.5,131.2 L540.3,131.9 L541.0,132.5 L541.8,133.1 L542.6,133.8 L543.4,134.4 L544.2,135.0 L544.9,135.7 L545.7,136.3 L546.5,136.9 L547.3,137.6 L548.1,138.2 L548.8,138.8 L549.6,139.5 L550.4,140.1 L551.0,141.0 L551.2,141.5M560.7,156.8 L560.8,157.0 L561.2,157.8 L561.7,158.7 L562.2,159.6 L562.6,160.3M569.3,172.9 L569.3,172.9 L569.8,173.8 L570.3,174.7 L570.7,175.6 L571.2,176.5 L571.6,177.4 L572.1,178.3 L572.6,179.2 L573.0,180.1 L573.5,181.0 L574.0,181.9 L574.4,182.8 L574.9,183.7 L575.4,184.6 L575.8,185.5 L576.3,186.4 L576.8,187.3 L577.2,188.2 L577.7,189.1 L578.1,190.0 L578.6,190.9 L579.1,191.8 L579.5,192.7 L580.0,193.6 L580.2,193.9M586.5,210.8 L586.6,211.1 L587.0,212.1 L587.4,213.1 L587.7,214.1 L587.9,214.5M597.6,234.2 L597.6,234.3 L597.9,235.2 L598.3,236.2 L598.7,237.1 L599.0,238.1 L599.4,239.1 L599.8,240.0 L600.1,241.0 L600.5,241.9 L600.9,242.9 L601.2,243.9 L601.6,244.8 L602.0,245.8 L602.4,246.7 L602.7,247.7 L603.1,248.7 L603.5,249.6 L603.8,250.6 L604.2,251.5 L604.6,252.5 L604.9,253.5 L605.3,254.4 L605.7,255.4 L606.0,256.3 L606.0,256.3M612.5,273.2 L612.5,273.4 L612.9,274.3 L613.2,275.3 L613.6,276.3 L613.8,276.9M618.9,292.0 L618.9,292.0 L619.3,293.0 L619.6,293.9 L620.0,294.9 L620.4,295.8 L620.8,296.8 L621.1,297.7 L621.5,298.7 L621.9,299.6 L622.3,300.5 L622.7,301.5 L623.0,302.4 L623.4,303.4 L623.8,304.3 L624.2,305.3 L624.5,306.2 L624.9,307.2 L625.3,308.1 L625.7,309.0 L626.1,310.0 L626.4,310.9 L626.8,311.9 L627.2,312.8 L627.6,313.8 L627.7,314.0M634.4,330.7 L634.6,331.3 L635.0,332.2 L635.4,333.2 L635.8,334.2 L635.9,334.4M644.6,351.9 L644.6,351.9 L645.1,352.8 L645.6,353.7 L646.1,354.5 L646.6,355.4 L647.1,356.3 L647.6,357.1 L648.1,358.0 L648.6,358.9 L649.1,359.7 L649.6,360.6 L650.1,361.5 L650.6,362.4 L651.1,363.2 L651.6,364.1 L652.1,365.0 L652.6,365.8 L653.1,366.7 L653.6,367.6 L654.1,368.4 L654.6,369.3 L655.1,370.2 L655.6,371.0 L656.1,371.9 L656.4,372.5M665.7,387.9 L665.8,388.0 L666.3,388.9 L666.5,389.9 L666.7,390.9 L666.9,391.7M670.6,409.3 L670.6,409.3 L670.7,410.4 L670.8,411.4 L671.0,412.4 L671.1,413.4 L671.2,414.5 L671.4,415.5 L671.5,416.5 L671.6,417.5 L671.8,418.6 L671.9,419.6 L672.0,420.6 L672.2,421.6 L672.3,422.6 L672.5,423.7 L672.6,424.7 L672.7,425.7 L672.9,426.7 L673.0,427.8 L673.1,428.8 L673.3,429.8 L673.4,430.8 L673.5,431.9 L673.7,432.8M675.8,450.6 L675.9,451.0 L676.0,452.0 L676.1,453.0 L676.3,454.0 L676.3,454.6M680.6,461.6 L680.6,461.5 L680.8,460.5 L680.9,459.5 L681.1,458.5 L681.2,457.5 L681.4,456.5 L681.5,455.5 L681.6,454.5 L681.8,453.5 L681.9,452.5 L682.1,451.5 L682.2,450.5 L682.4,449.5 L682.5,448.5 L682.6,447.4 L682.8,446.4 L682.9,445.4 L683.1,444.4 L683.2,443.4 L683.4,442.4 L683.5,441.4 L683.7,440.4 L683.8,439.4 L683.9,438.4 L684.0,438.1M688.2,420.7 L688.7,420.2 L689.3,419.5 L690.0,418.8 L690.7,418.0 L690.9,417.7M705.1,425.0 L705.1,425.0 L705.9,425.7 L706.6,426.3 L707.4,427.0 L708.2,427.7 L708.9,428.3 L709.7,429.0 L710.4,429.7 L711.2,430.3 L711.9,431.0 L712.7,431.6 L713.5,432.3 L714.2,433.0 L715.0,433.6 L715.7,434.3 L716.5,435.0 L717.3,435.6 L718.0,436.3 L718.8,436.9 L719.5,437.6 L720.3,438.3 L721.0,438.9 L721.8,439.6 L722.6,440.3 L723.0,440.6M737.3,451.5 L738.0,452.0 L738.8,452.6 L739.6,453.2 L740.5,453.8 L740.5,453.8M756.5,465.1 L756.5,465.1 L757.3,465.6 L758.2,466.0 L759.1,466.5 L760.0,467.0 L760.9,467.5 L761.7,468.0 L762.6,468.5 L763.5,469.0 L764.4,469.4 L765.3,469.9 L766.1,470.4 L767.0,470.9 L767.9,471.4 L768.8,471.9 L769.6,472.4 L770.5,472.9 L771.4,473.3 L772.3,473.8 L773.2,474.3 L774.0,474.8 L774.9,475.3 L775.8,475.8 L776.7,476.3 L777.2,476.5M794.6,480.7 L794.7,480.7 L795.7,480.9 L796.7,481.0 L797.8,481.2 L798.5,481.3M818.4,480.6 L818.4,480.6 L819.4,480.5 L820.4,480.4 L821.5,480.2 L822.5,480.1 L823.5,480.0 L824.5,479.9 L825.5,479.8 L826.5,479.7 L827.5,479.6 L828.5,479.5 L829.5,479.4 L830.6,479.2 L831.6,479.1 L832.6,479.0 L833.6,478.9 L834.6,478.8 L835.6,478.7 L836.6,478.6 L837.6,478.5 L838.6,478.4 L839.7,478.2 L840.7,478.1 L841.7,478.0 L841.9,478.0M859.7,475.1 L860.5,475.0 L861.5,474.9 L862.5,474.8 L863.6,474.7 L863.7,474.7M881.9,473.0 L881.9,473.0 L882.9,473.1 L883.9,473.2 L884.9,473.2 L885.9,473.3 L887.0,473.4 L888.0,473.4 L889.0,473.5 L890.0,473.5 L891.0,473.6 L892.0,473.7 L893.0,473.7 L894.0,473.8 L895.0,473.8 L896.0,473.8 L897.0,473.8 L898.1,473.8 L899.1,473.8 L900.1,473.8 L901.1,473.8 L902.1,473.8 L903.1,473.8 L904.2,473.8 L905.2,473.8 L905.6,473.8M923.5,474.7 L924.0,474.7 L925.0,474.7 L926.0,474.7 L927.1,474.7 L927.5,474.8M945.4,475.3 L945.4,475.3 L946.4,475.5 L947.4,475.7 L948.3,475.8 L949.3,476.0 L950.3,476.1 L951.3,476.3 L952.3,476.5 L953.3,476.6 L954.3,476.8 L955.3,477.0 L956.2,477.1 L957.2,477.3 L958.2,477.5 L959.2,477.6 L960.2,477.8 L961.2,478.0 L962.2,478.1 L963.2,478.3 L964.1,478.4 L965.1,478.6 L966.1,478.8 L967.1,478.9 L968.1,479.1 L968.7,479.3M986.1,484.0 L986.4,484.1 L987.4,484.5 L988.3,484.9 L989.3,485.2 L989.8,485.4M1005.7,491.5 L1005.8,491.5 L1006.7,491.8 L1007.7,492.1 L1008.7,492.4 L1009.7,492.7 L1010.7,492.9 L1011.7,493.2 L1012.6,493.5 L1013.6,493.8 L1014.6,494.1 L1015.6,494.4 L1016.6,494.7 L1017.5,495.0 L1018.5,495.3 L1019.5,495.6 L1020.5,495.9 L1021.5,496.2 L1022.4,496.5 L1023.4,496.8 L1024.4,497.0 L1025.4,497.3 L1026.4,497.6 L1027.4,497.9 L1028.3,498.2 L1028.4,498.2M1045.3,504.4 L1046.0,504.6 L1047.0,505.0 L1048.0,505.2 L1049.0,505.5 L1049.2,505.5M1066.7,509.8 L1066.7,509.8 L1067.7,510.0 L1068.7,510.2 L1069.8,510.4 L1070.8,510.6 L1071.8,510.8 L1072.8,511.0 L1073.8,511.2 L1074.8,511.4 L1075.8,511.6 L1076.8,511.8 L1077.8,512.0 L1078.9,512.1 L1079.9,512.3 L1080.9,512.5 L1081.9,512.7 L1082.9,512.9 L1083.9,513.1 L1084.9,513.3 L1085.9,513.5 L1086.9,513.7 L1088.0,513.9 L1089.0,514.1 L1089.9,514.3M1107.6,518.0 L1107.7,518.0 L1108.7,518.2 L1109.7,518.4 L1110.7,518.7 L1111.4,518.9M1128.4,523.0 L1128.4,523.0 L1129.4,523.2 L1130.4,523.4 L1131.5,523.6 L1132.5,523.8 L1133.5,524.0 L1134.5,524.2 L1135.5,524.4 L1136.5,524.6 L1137.5,524.8 L1138.5,525.0 L1139.5,525.2 L1140.6,525.3 L1141.6,525.5 L1142.6,525.7 L1143.6,525.9 L1144.6,526.1 L1145.6,526.3 L1146.6,526.5 L1147.6,526.7 L1148.6,526.9 L1149.7,527.1 L1150.7,527.3 L1151.6,527.5M1169.3,531.1 L1169.5,531.2 L1170.5,531.4 L1171.5,531.3 L1172.6,531.3 L1173.2,531.3M1190.1,530.8 L1190.2,530.8 L1191.2,530.9 L1192.2,531.0 L1193.2,531.2 L1194.3,531.3 L1195.3,531.4 L1196.3,531.6 L1197.4,531.7 L1198.4,531.8 L1199.4,532.0 L1200.4,532.1 L1201.5,532.2 L1202.5,532.4 L1203.5,532.5 L1204.6,532.6 L1205.6,532.8 L1206.6,532.9 L1207.7,533.0 L1208.7,533.2 L1209.7,533.3 L1210.7,533.4 L1211.8,533.6 L1212.8,533.7 L1213.5,533.4M1229.7,525.5 L1230.5,525.1 L1231.3,524.5 L1232.2,524.0 L1233.1,523.5 L1233.1,523.5M1247.9,516.8 L1247.9,516.9 L1248.7,517.5 L1249.6,518.1 L1250.4,518.7 L1251.2,519.4 L1252.0,520.0 L1252.6,520.8 L1253.2,521.6 L1253.8,522.5 L1254.3,523.3 L1254.9,524.1 L1255.5,524.9 L1256.1,525.8 L1256.7,526.6 L1257.3,527.4 L1257.9,528.2 L1258.4,529.1 L1259.0,529.9 L1259.6,530.7 L1260.2,531.5 L1260.8,532.4 L1261.4,533.2 L1262.0,534.0 L1262.5,534.8 L1262.7,535.1M1268.7,551.9 L1268.8,552.2 L1269.1,553.2 L1269.4,554.2 L1269.7,555.2 L1269.9,555.8M1278.2,542.0 L1278.2,542.0 L1278.5,541.0 L1278.8,540.1 L1279.2,539.1 L1279.5,538.1 L1279.8,537.2 L1280.2,536.2 L1280.5,535.3 L1280.8,534.3 L1281.2,533.3 L1281.5,532.4 L1281.9,531.4 L1282.2,530.4 L1282.5,529.5 L1282.9,528.5 L1283.2,527.6 L1283.5,526.6 L1283.9,525.6 L1284.2,524.7 L1284.5,523.7 L1284.9,522.8 L1285.2,521.8 L1286.2,521.5 L1287.1,521.2 L1287.4,521.1M1304.5,515.6 L1304.6,515.6 L1305.5,515.2 L1306.4,514.8 L1307.3,514.4 L1308.2,514.0M1322.1,508.0 L1322.1,507.9 L1323.0,507.5 L1323.9,507.1 L1324.8,506.7 L1325.7,506.2 L1326.7,505.8 L1327.6,505.4 L1328.5,505.0 L1329.4,504.5 L1330.3,504.1 L1331.2,503.7 L1332.1,503.3 L1333.0,502.8 L1333.9,502.4 L1334.8,502.0 L1335.7,501.6 L1336.6,501.1 L1337.5,500.7 L1338.4,500.3 L1339.4,499.9 L1340.3,499.4 L1341.2,499.0 L1342.1,498.6 L1343.0,498.2 L1343.6,497.9M1360.7,499.8 L1360.7,499.8 L1361.6,500.4 L1362.1,501.3 L1362.5,502.2 L1362.9,503.0M1369.4,512.3 L1369.4,512.2 L1369.9,511.3 L1370.4,510.4 L1370.8,509.4 L1371.3,508.5 L1371.8,507.6 L1372.2,506.7 L1372.7,505.7 L1373.2,504.8 L1373.6,503.9 L1374.1,502.9 L1374.5,502.0 L1375.0,501.1 L1375.5,500.1 L1375.9,499.2 L1376.4,498.3 L1376.9,497.4 L1377.3,496.4 L1377.8,495.5 L1378.3,494.6 L1378.7,493.6 L1379.2,492.7 L1379.9,491.9 L1380.4,491.4M1392.7,478.4 L1393.3,478.2 L1394.2,477.8 L1395.1,477.4 L1396.0,477.0 L1396.4,476.8M1411.0,470.9 L1411.0,470.9 L1412.0,470.7 L1413.1,470.6 L1414.1,470.4 L1415.1,470.2 L1416.1,470.0 L1417.1,469.8 L1418.2,469.6 L1419.2,469.4 L1420.2,469.2 L1421.2,469.1 L1422.2,468.9 L1423.2,468.7 L1424.2,468.5 L1425.3,468.3 L1426.3,468.1 L1427.3,467.9 L1428.3,467.7 L1429.3,467.6 L1430.4,467.4 L1431.4,467.2 L1432.4,467.0 L1433.4,466.8 L1434.3,466.6M1451.7,462.2 L1451.8,462.2 L1452.8,462.1 L1453.8,462.0 L1454.8,461.9 L1455.7,461.9M1470.6,461.5 L1470.7,461.5 L1471.6,461.9 L1472.6,462.3 L1473.5,462.7 L1474.4,463.1 L1475.4,463.5 L1476.3,463.9 L1477.2,464.3 L1478.2,464.7 L1479.1,465.2 L1480.1,465.6 L1481.0,466.0 L1481.9,466.4 L1482.9,466.8 L1483.8,467.2 L1484.7,467.6 L1485.7,468.0 L1486.6,468.4 L1487.6,468.8 L1488.5,469.2 L1489.1,470.0 L1489.7,470.9 L1490.2,471.7 L1490.8,472.5 L1490.9,472.7M1501.1,487.5 L1501.1,487.7 L1501.6,488.6 L1502.0,489.6 L1502.5,490.5 L1502.8,491.2M1508.4,503.9 L1508.5,504.0 L1508.7,505.0 L1509.0,506.0 L1509.3,507.0 L1509.5,507.9 L1509.8,508.9 L1510.1,509.9 L1510.4,510.9 L1510.6,511.9 L1510.9,512.9 L1511.2,513.9 L1511.4,514.9 L1511.7,515.9 L1512.0,516.8 L1512.2,517.8 L1512.5,518.8 L1512.8,519.8 L1513.0,520.8 L1513.3,521.8 L1513.6,522.8 L1513.9,523.8 L1514.1,524.7 L1514.4,525.7 L1514.7,526.7 L1514.7,526.8M1520.3,543.9 L1520.3,544.0 L1520.7,545.0 L1521.0,545.9 L1521.3,546.9 L1521.6,547.7M1527.9,567.0 L1527.9,567.0 L1528.1,568.0 L1528.4,569.0 L1528.6,570.0 L1528.8,570.9 L1529.1,571.9 L1529.3,572.9 L1529.6,573.8 L1529.8,574.8 L1530.0,575.8 L1530.3,576.8 L1530.5,577.7 L1530.8,578.7 L1531.0,579.7 L1531.2,580.7 L1531.5,581.6 L1531.7,582.6 L1532.0,583.6 L1532.2,584.5 L1532.4,585.5 L1532.7,586.5 L1532.9,587.5 L1533.2,588.4 L1533.4,589.4 L1533.6,590.1M1538.0,607.5 L1538.1,607.8 L1538.3,608.8 L1538.6,609.8 L1538.9,610.7 L1539.1,611.3M1546.1,632.0 L1546.1,632.0 L1546.4,633.0 L1546.8,634.0 L1547.1,634.9 L1547.5,635.9 L1547.8,636.9 L1548.2,637.9 L1548.5,638.8 L1548.9,639.8 L1549.2,640.8 L1549.6,641.8 L1550.0,642.7 L1550.3,643.7 L1550.7,644.7 L1551.0,645.6 L1551.4,646.6 L1551.7,647.6 L1552.1,648.6 L1552.4,649.5 L1552.8,650.5 L1553.1,651.5 L1553.3,652.5 L1553.6,653.4 L1553.9,654.4M1558.7,671.7 L1558.9,672.0 L1559.2,673.0 L1559.6,674.0 L1559.9,675.0 L1560.1,675.4M1564.8,688.8 L1564.8,688.9 L1565.1,689.9 L1565.4,690.9 L1565.7,691.9 L1566.0,692.8 L1566.3,693.8 L1566.6,694.8 L1566.9,695.8 L1567.2,696.8 L1567.5,697.8 L1567.7,698.8 L1568.0,699.8 L1568.3,700.8 L1568.6,701.8 L1568.9,702.8 L1569.2,703.8 L1569.5,704.7 L1569.8,705.7 L1570.1,706.7 L1570.4,707.7 L1570.7,708.7 L1571.0,709.7 L1571.5,710.6 L1571.9,711.4M1579.9,727.5 L1580.1,727.9 L1580.6,728.8 L1581.1,729.6 L1581.6,730.5 L1581.9,731.0M1586.1,738.3 L1586.1,738.3 L1586.6,739.2 L1587.1,740.0 L1587.6,740.9 L1588.1,741.8 L1588.7,742.6 L1589.2,743.5 L1589.7,744.4 L1590.2,745.3 L1590.7,746.1 L1591.2,747.0 L1591.7,747.9 L1592.2,748.7 L1592.7,749.6 L1593.2,750.5 L1593.7,751.3 L1594.2,752.2 L1594.7,753.1 L1595.2,753.9 L1595.7,754.8 L1596.2,755.7 L1596.7,756.5 L1597.2,757.4 L1597.7,758.3 L1598.0,758.8M1606.4,774.8 L1606.6,775.5 L1606.9,776.4 L1607.2,777.4 L1607.4,778.4 L1607.5,778.6M1612.2,794.9 L1612.2,794.9 L1612.5,795.9 L1612.8,796.9 L1613.0,797.9 L1613.2,798.9 L1613.5,799.9 L1613.8,800.9 L1614.0,801.9 L1614.2,802.9 L1614.5,803.9 L1614.8,804.9 L1615.0,806.0 L1615.2,807.0 L1615.5,808.0 L1615.8,809.0 L1616.0,810.0 L1616.2,811.0 L1616.5,812.0 L1616.8,813.0 L1617.0,814.0 L1617.2,815.0 L1617.5,816.0 L1617.8,817.0 L1618.0,817.9M1621.3,835.5 L1621.4,836.0 L1621.6,837.0 L1621.8,838.0 L1622.0,839.0 L1622.1,839.5M1624.8,857.0 L1624.8,857.0 L1625.0,858.0 L1625.2,859.0 L1625.3,860.0 L1625.5,861.0 L1625.7,862.0 L1625.8,863.0 L1626.0,864.0 L1626.2,865.0 L1626.3,866.0 L1626.5,867.0 L1626.7,868.0 L1626.8,869.0 L1627.0,870.0 L1627.2,871.0 L1627.3,872.0 L1627.5,873.0 L1627.7,874.0 L1627.8,875.0 L1628.0,876.0 L1628.2,877.0 L1628.3,878.0 L1628.5,879.0 L1628.6,880.0 L1628.7,880.4M1631.0,898.2 L1631.0,898.7 L1631.2,899.8 L1631.3,900.8 L1631.4,901.8 L1631.4,902.2M1633.2,919.4 L1633.3,919.9 L1633.4,921.0 L1633.5,922.0 L1633.6,923.0 L1633.7,924.0 L1633.8,925.0 L1633.9,926.0 L1634.0,927.0" stroke="#0000ff" stroke-width="4"/>
<g fill="#008000" stroke="none"><circle cx="237.0" cy="51.9" r="3.5"/><circle cx="251.2" cy="53.8" r="3.5"/><circle cx="266.1" cy="54.8" r="3.5"/><circle cx="281.0" cy="56.6" r="3.5"/><circle cx="295.5" cy="59.0" r="3.5"/><circle cx="310.1" cy="60.3" r="3.5"/><circle cx="324.7" cy="62.6" r="3.5"/><circle cx="339.2" cy="64.1" r="3.5"/><circle cx="354.0" cy="66.1" r="3.5"/><circle cx="368.3" cy="67.8" r="3.5"/><circle cx="381.9" cy="70.4" r="3.5"/><circle cx="395.8" cy="73.8" r="3.5"/><circle cx="410.0" cy="77.5" r="3.5"/><circle cx="424.3" cy="80.5" r="3.5"/><circle cx="438.2" cy="84.0" r="3.5"/><circle cx="452.1" cy="88.1" r="3.5"/><circle cx="465.0" cy="92.5" r="3.5"/><circle cx="477.6" cy="98.3" r="3.5"/><circle cx="490.9" cy="105.9" r="3.5"/><circle cx="501.9" cy="114.6" r="3.5"/><circle cx="512.2" cy="124.6" r="3.5"/><circle cx="521.3" cy="137.2" r="3.5"/><circle cx="528.8" cy="150.4" r="3.5"/><circle cx="535.0" cy="164.3" r="3.5"/><circle cx="542.5" cy="177.1" r="3.5"/><circle cx="548.6" cy="190.9" r="3.5"/><circle cx="553.5" cy="205.3" r="3.5"/><circle cx="557.9" cy="219.3" r="3.5"/><circle cx="561.5" cy="233.8" r="3.5"/><circle cx="565.0" cy="248.4" r="3.5"/><circle cx="568.0" cy="263.0" r="3.5"/><circle cx="571.6" cy="277.1" r="3.5"/><circle cx="574.5" cy="291.7" r="3.5"/><circle cx="577.7" cy="306.2" r="3.5"/><circle cx="580.6" cy="320.8" r="3.5"/><circle cx="583.3" cy="335.3" r="3.5"/><circle cx="586.2" cy="349.9" r="3.5"/><circle cx="588.6" cy="364.0" r="3.5"/><circle cx="591.5" cy="378.5" r="3.5"/><circle cx="594.7" cy="393.1" r="3.5"/><circle cx="597.6" cy="407.7" r="3.5"/><circle cx="600.7" cy="422.0" r="3.5"/><circle cx="603.9" cy="436.3" r="3.5"/><circle cx="606.8" cy="450.6" r="3.5"/><circle cx="609.2" cy="465.2" r="3.5"/><circle cx="612.5" cy="479.9" r="3.5"/><circle cx="615.7" cy="494.2" r="3.5"/><circle cx="618.9" cy="508.4" r="3.5"/><circle cx="622.1" cy="522.8" r="3.5"/><circle cx="625.8" cy="537.3" r="3.5"/><circle cx="629.2" cy="551.7" r="3.5"/><circle cx="633.5" cy="566.0" r="3.5"/><circle cx="637.1" cy="580.1" r="3.5"/><circle cx="641.0" cy="594.2" r="3.5"/><circle cx="645.6" cy="608.1" r="3.5"/><circle cx="650.6" cy="622.2" r="3.5"/><circle cx="655.8" cy="635.9" r="3.5"/><circle cx="661.0" cy="649.5" r="3.5"/><circle cx="667.2" cy="663.2" r="3.5"/><circle cx="672.2" cy="676.8" r="3.5"/><circle cx="677.0" cy="690.9" r="3.5"/><circle cx="683.8" cy="700.7" r="3.5"/><circle cx="692.2" cy="713.9" r="3.5"/><circle cx="700.6" cy="726.9" r="3.5"/><circle cx="708.6" cy="739.4" r="3.5"/><circle cx="717.2" cy="751.9" r="3.5"/><circle cx="726.3" cy="764.0" r="3.5"/><circle cx="736.2" cy="775.3" r="3.5"/><circle cx="747.0" cy="786.1" r="3.5"/><circle cx="758.7" cy="796.2" r="3.5"/><circle cx="772.1" cy="805.3" r="3.5"/><circle cx="785.6" cy="813.4" r="3.5"/><circle cx="800.1" cy="817.4" r="3.5"/><circle cx="814.8" cy="817.9" r="3.5"/><circle cx="828.5" cy="816.2" r="3.5"/><circle cx="842.4" cy="811.2" r="3.5"/><circle cx="855.6" cy="804.5" r="3.5"/><circle cx="866.9" cy="797.0" r="3.5"/><circle cx="878.6" cy="789.0" r="3.5"/><circle cx="891.5" cy="780.3" r="3.5"/><circle cx="904.5" cy="771.6" r="3.5"/><circle cx="917.0" cy="763.3" r="3.5"/><circle cx="929.2" cy="754.9" r="3.5"/><circle cx="941.7" cy="747.2" r="3.5"/><circle cx="954.9" cy="739.9" r="3.5"/><circle cx="968.3" cy="733.2" r="3.5"/><circle cx="981.8" cy="726.2" r="3.5"/><circle cx="995.0" cy="719.5" r="3.5"/><circle cx="1007.3" cy="712.3" r="3.5"/><circle cx="1018.8" cy="704.5" r="3.5"/><circle cx="1030.0" cy="695.8" r="3.5"/><circle cx="1041.5" cy="686.4" r="3.5"/><circle cx="1053.4" cy="676.5" r="3.5"/><circle cx="1064.9" cy="667.0" r="3.5"/><circle cx="1076.4" cy="657.1" r="3.5"/><circle cx="1087.1" cy="649.2" r="3.5"/><circle cx="1098.1" cy="640.7" r="3.5"/><circle cx="1110.2" cy="632.4" r="3.5"/><circle cx="1122.5" cy="623.9" r="3.5"/><circle cx="1135.2" cy="616.3" r="3.5"/><circle cx="1148.0" cy="608.6" r="3.5"/><circle cx="1162.3" cy="604.0" r="3.5"/><circle cx="1176.0" cy="601.0" r="3.5"/><circle cx="1190.6" cy="595.0" r="3.5"/><circle cx="1205.0" cy="593.7" r="3.5"/><circle cx="1217.5" cy="591.3" r="3.5"/><circle cx="1229.7" cy="585.2" r="3.5"/><circle cx="1244.5" cy="577.3" r="3.5"/><circle cx="1256.0" cy="581.0" r="3.5"/><circle cx="1266.3" cy="593.0" r="3.5"/><circle cx="1269.9" cy="606.6" r="3.5"/><circle cx="1276.8" cy="597.4" r="3.5"/><circle cx="1280.6" cy="582.9" r="3.5"/><circle cx="1285.9" cy="570.7" r="3.5"/><circle cx="1299.7" cy="567.6" r="3.5"/><circle cx="1311.1" cy="560.8" r="3.5"/><circle cx="1324.1" cy="550.8" r="3.5"/><circle cx="1335.6" cy="543.2" r="3.5"/><circle cx="1347.8" cy="536.3" r="3.5"/><circle cx="1360.1" cy="535.5" r="3.5"/><circle cx="1367.7" cy="547.0" r="3.5"/><circle cx="1375.3" cy="536.3" r="3.5"/><circle cx="1380.7" cy="523.3" r="3.5"/><circle cx="1389.9" cy="511.8" r="3.5"/><circle cx="1404.4" cy="506.5" r="3.5"/><circle cx="1415.9" cy="502.7" r="3.5"/><circle cx="1428.8" cy="498.9" r="3.5"/><circle cx="1443.4" cy="493.5" r="3.5"/><circle cx="1455.6" cy="488.2" r="3.5"/><circle cx="1470.1" cy="484.3" r="3.5"/><circle cx="1481.6" cy="487.4" r="3.5"/><circle cx="1492.3" cy="496.6" r="3.5"/><circle cx="1501.7" cy="509.0" r="3.5"/><circle cx="1507.5" cy="522.6" r="3.5"/><circle cx="1512.8" cy="537.2" r="3.5"/><circle cx="1516.5" cy="549.4" r="3.5"/><circle cx="1522.5" cy="563.9" r="3.5"/><circle cx="1526.2" cy="578.5" r="3.5"/><circle cx="1529.8" cy="593.1" r="3.5"/><circle cx="1533.4" cy="606.4" r="3.5"/><circle cx="1537.1" cy="621.0" r="3.5"/><circle cx="1541.6" cy="635.0" r="3.5"/><circle cx="1546.0" cy="649.3" r="3.5"/><circle cx="1550.6" cy="664.1" r="3.5"/><circle cx="1555.1" cy="677.8" r="3.5"/><circle cx="1559.7" cy="691.4" r="3.5"/><circle cx="1563.1" cy="705.1" r="3.5"/><circle cx="1567.6" cy="719.9" r="3.5"/><circle cx="1573.3" cy="733.6" r="3.5"/><circle cx="1579.0" cy="746.1" r="3.5"/><circle cx="1583.6" cy="755.2" r="3.5"/><circle cx="1591.5" cy="768.8" r="3.5"/><circle cx="1600.6" cy="780.2" r="3.5"/><circle cx="1606.3" cy="793.9" r="3.5"/><circle cx="1611.5" cy="807.5" r="3.5"/><circle cx="1615.4" cy="822.3" r="3.5"/><circle cx="1619.3" cy="837.1" r="3.5"/><circle cx="1622.2" cy="850.8" r="3.5"/><circle cx="1624.5" cy="865.5" r="3.5"/><circle cx="1627.5" cy="880.3" r="3.5"/><circle cx="1629.1" cy="895.1" r="3.5"/><circle cx="1631.3" cy="908.8" r="3.5"/><circle cx="1633.6" cy="923.6" r="3.5"/></g>
</g>
<rect x="237.0" y="14.92" width="1398.40" height="1114.58" fill="none" stroke="#000" stroke-width="3.4"/>
<line x1="215.0" y1="1129.50" x2="237.0" y2="1129.50" stroke="#000" stroke-width="3.4" stroke-linecap="round"/>
<line x1="225.0" y1="1076.42" x2="237.0" y2="1076.42" stroke="#000" stroke-width="3.4" stroke-linecap="round"/>
<line x1="215.0" y1="1023.35" x2="237.0" y2="1023.35" stroke="#000" stroke-width="3.4" stroke-linecap="round"/>
<line x1="225.0" y1="970.27" x2="237.0" y2="970.27" stroke="#000" stroke-width="3.4" stroke-linecap="round"/>
<line x1="215.0" y1="917.20" x2="237.0" y2="917.20" stroke="#000" stroke-width="3.4" stroke-linecap="round"/>
<line x1="225.0" y1="864.12" x2="237.0" y2="864.12" stroke="#000" stroke-width="3.4" stroke-linecap="round"/>
<line x1="215.0" y1="811.05" x2="237.0" y2="811.05" stroke="#000" stroke-width="3.4" stroke-linecap="round"/>
<line x1="225.0" y1="757.97" x2="237.0" y2="757.97" stroke="#000" stroke-width="3.4" stroke-linecap="round"/>
<line x1="215.0" y1="704.90" x2="237.0" y2="704.90" stroke="#000" stroke-width="3.4" stroke-linecap="round"/>
<line x1="225.0" y1="651.83" x2="237.0" y2="651.83" stroke="#000" stroke-width="3.4" stroke-linecap="round"/>
<line x1="215.0" y1="598.75" x2="237.0" y2="598.75" stroke="#000" stroke-width="3.4" stroke-linecap="round"/>
<line x1="225.0" y1="545.67" x2="237.0" y2="545.67" stroke="#000" stroke-width="3.4" stroke-linecap="round"/>
<line x1="215.0" y1="492.60" x2="237.0" y2="492.60" stroke="#000" stroke-width="3.4" stroke-linecap="round"/>
<line x1="225.0" y1="439.52" x2="237.0" y2="439.52" stroke="#000" stroke-width="3.4" stroke-linecap="round"/>
<line x1="215.0" y1="386.45" x2="237.0" y2="386.45" stroke="#000" stroke-width="3.4" stroke-linecap="round"/>
<line x1="225.0" y1="333.38" x2="237.0" y2="333.38" stroke="#000" stroke-width="3.4" stroke-linecap="round"/>
<line x1="215.0" y1="280.30" x2="237.0" y2="280.30" stroke="#000" stroke-width="3.4" stroke-linecap="round"/>
<line x1="225.0" y1="227.23" x2="237.0" y2="227.23" stroke="#000" stroke-width="3.4" stroke-linecap="round"/>
<line x1="215.0" y1="174.15" x2="237.0" y2="174.15" stroke="#000" stroke-width="3.4" stroke-linecap="round"/>
<line x1="225.0" y1="121.07" x2="237.0" y2="121.07" stroke="#000" stroke-width="3.4" stroke-linecap="round"/>
<line x1="215.0" y1="68.00" x2="237.0" y2="68.00" stroke="#000" stroke-width="3.4" stroke-linecap="round"/>
<line x1="225.0" y1="14.92" x2="237.0" y2="14.92" stroke="#000" stroke-width="3.4" stroke-linecap="round"/>
<text class="tl" x="203.5" y="1146.50" text-anchor="end">0</text>
<text class="tl" x="203.5" y="1040.35" text-anchor="end">10</text>
<text class="tl" x="203.5" y="934.20" text-anchor="end">20</text>
<text class="tl" x="203.5" y="828.05" text-anchor="end">30</text>
<text class="tl" x="203.5" y="721.90" text-anchor="end">40</text>
<text class="tl" x="203.5" y="615.75" text-anchor="end">50</text>
<text class="tl" x="203.5" y="509.60" text-anchor="end">60</text>
<text class="tl" x="203.5" y="403.45" text-anchor="end">70</text>
<text class="tl" x="203.5" y="297.30" text-anchor="end">80</text>
<text class="tl" x="203.5" y="191.15" text-anchor="end">90</text>
<text class="tl" x="203.5" y="85.00" text-anchor="end">100</text>
<line x1="1635.40" y1="1129.5" x2="1635.40" y2="1151.5" stroke="#000" stroke-width="3.4" stroke-linecap="round"/>
<line x1="1535.52" y1="1129.5" x2="1535.52" y2="1140.5" stroke="#000" stroke-width="3.4" stroke-linecap="round"/>
<line x1="1435.63" y1="1129.5" x2="1435.63" y2="1151.5" stroke="#000" stroke-width="3.4" stroke-linecap="round"/>
<line x1="1335.75" y1="1129.5" x2="1335.75" y2="1140.5" stroke="#000" stroke-width="3.4" stroke-linecap="round"/>
<line x1="1235.86" y1="1129.5" x2="1235.86" y2="1151.5" stroke="#000" stroke-width="3.4" stroke-linecap="round"/>
<line x1="1135.97" y1="1129.5" x2="1135.97" y2="1140.5" stroke="#000" stroke-width="3.4" stroke-linecap="round"/>
<line x1="1036.09" y1="1129.5" x2="1036.09" y2="1151.5" stroke="#000" stroke-width="3.4" stroke-linecap="round"/>
<line x1="936.20" y1="1129.5" x2="936.20" y2="1140.5" stroke="#000" stroke-width="3.4" stroke-linecap="round"/>
<line x1="836.32" y1="1129.5" x2="836.32" y2="1151.5" stroke="#000" stroke-width="3.4" stroke-linecap="round"/>
<line x1="736.43" y1="1129.5" x2="736.43" y2="1140.5" stroke="#000" stroke-width="3.4" stroke-linecap="round"/>
<line x1="636.54" y1="1129.5" x2="636.54" y2="1151.5" stroke="#000" stroke-width="3.4" stroke-linecap="round"/>
<line x1="536.66" y1="1129.5" x2="536.66" y2="1140.5" stroke="#000" stroke-width="3.4" stroke-linecap="round"/>
<line x1="436.77" y1="1129.5" x2="436.77" y2="1151.5" stroke="#000" stroke-width="3.4" stroke-linecap="round"/>
<line x1="336.89" y1="1129.5" x2="336.89" y2="1140.5" stroke="#000" stroke-width="3.4" stroke-linecap="round"/>
<line x1="237.00" y1="1129.5" x2="237.00" y2="1151.5" stroke="#000" stroke-width="3.4" stroke-linecap="round"/>
<text class="tl" x="1635.40" y="1207.5" text-anchor="middle">2600</text>
<text class="tl" x="1435.63" y="1207.5" text-anchor="middle">2800</text>
<text class="tl" x="1235.86" y="1207.5" text-anchor="middle">3000</text>
<text class="tl" x="1036.09" y="1207.5" text-anchor="middle">3200</text>
<text class="tl" x="836.32" y="1207.5" text-anchor="middle">3400</text>
<text class="tl" x="636.54" y="1207.5" text-anchor="middle">3600</text>
<text class="tl" x="436.77" y="1207.5" text-anchor="middle">3800</text>
<text class="tl" x="237.00" y="1207.5" text-anchor="middle">4000</text>
<text class="at" transform="translate(65,829.5) rotate(-90)">Transmittance (%)</text>
<text class="at2" x="671" y="1292">Wavelength (cm</text>
<text class="mn" x="1120.5" y="1258.5" stroke="#000" stroke-width="0.9">–</text>
<text class="at2" x="1145.8" y="1264.9">1</text>
<text class="at2" x="1178.7" y="1292">)</text>
<rect x="249.5" y="848.2" width="441.5" height="271" fill="#fff" stroke="#404040" stroke-width="2.2"/>
<text class="lb" x="263" y="889.5">Pure PFC</text>
<line x1="325" y1="918.7" x2="400" y2="918.7" stroke="#000" stroke-width="4.5" stroke-linecap="round"/>
<text class="lr" x="545" y="929.5">PF-5058</text>
<text class="lb" x="261" y="975.5" style="font-size:34px">PFC emulsion</text>
<text class="lb2" x="543.3" y="973.7"><tspan>[H</tspan><tspan class="sub" dy="11.5">2</tspan><tspan dy="-11.5">SO</tspan><tspan class="sub" dy="11.5">4</tspan><tspan dy="-11.5">]</tspan></text>
<line x1="332" y1="1019.2" x2="409" y2="1019.2" stroke="#ff0000" stroke-width="4" stroke-linecap="round" stroke-dasharray="9.3 13.6"/>
<line x1="332" y1="1059.8" x2="407" y2="1059.8" stroke="#0000ff" stroke-width="4" stroke-linecap="round" stroke-dasharray="27 16 4.3 16.5"/>
<line x1="332.5" y1="1100.4" x2="407" y2="1100.4" stroke="#008000" stroke-width="7" stroke-linecap="round" stroke-dasharray="0 14.76"/>
<text class="lr" x="552" y="1029.6">0.74M</text>
<text class="lr" x="552" y="1069.4">0.37M</text>
<text class="lr" x="552" y="1110.6">0.18M</text>
</svg>
</body></html>
